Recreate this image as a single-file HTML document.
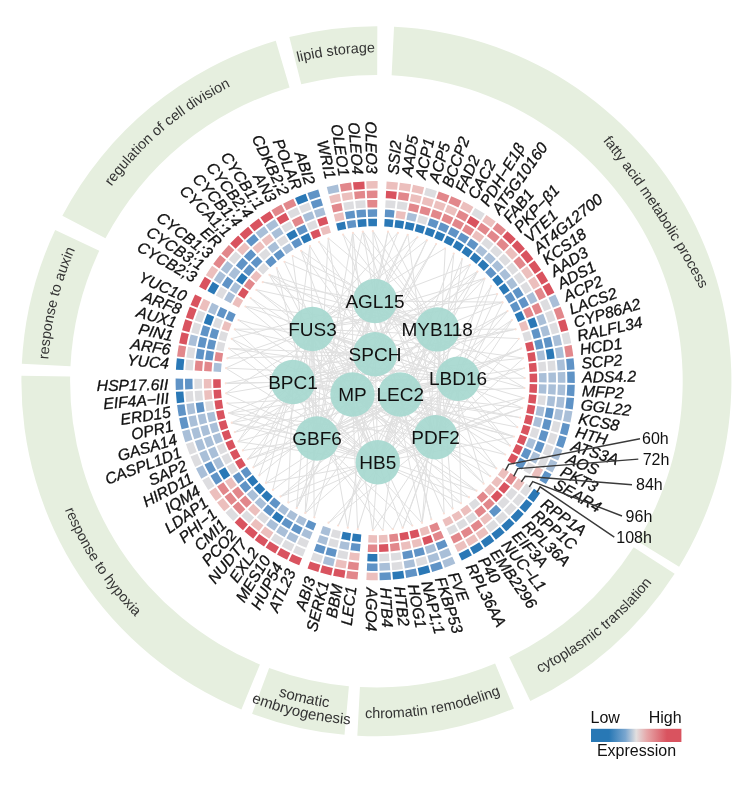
<!DOCTYPE html>
<html><head><meta charset="utf-8"><title>Figure</title><style>html,body{margin:0;padding:0;background:#fff}svg{display:block}text{-webkit-font-smoothing:antialiased}svg{will-change:transform;transform:translateZ(0)}</style></head><body>
<svg width="750" height="804" viewBox="0 0 750 804" font-family="'Liberation Sans', Arial, sans-serif">
<rect width="750" height="804" fill="#fff"/>
<path d="M394.05,26.64A355.00,355.00 0 0 1 679.09,566.69L637.56,541.24A306.30,306.30 0 0 0 391.63,75.28Z" fill="#e6efdf"/>
<path d="M674.63,573.77A355.00,355.00 0 0 1 530.35,701.08L509.23,657.20A306.30,306.30 0 0 0 633.72,547.35Z" fill="#e6efdf"/>
<path d="M513.97,708.46A355.00,355.00 0 0 1 357.33,735.69L359.94,687.06A306.30,306.30 0 0 0 495.10,663.57Z" fill="#e6efdf"/>
<path d="M344.53,734.77A355.00,355.00 0 0 1 252.08,713.72L269.13,668.10A306.30,306.30 0 0 0 348.91,686.26Z" fill="#e6efdf"/>
<path d="M241.41,709.53A355.00,355.00 0 0 1 21.44,375.81L70.14,376.55A306.30,306.30 0 0 0 259.93,664.49Z" fill="#e6efdf"/>
<path d="M21.83,363.73A355.00,355.00 0 0 1 55.19,230.05L99.25,250.78A306.30,306.30 0 0 0 70.47,366.13Z" fill="#e6efdf"/>
<path d="M62.37,215.63A355.00,355.00 0 0 1 275.75,40.77L289.56,87.47A306.30,306.30 0 0 0 105.45,238.35Z" fill="#e6efdf"/>
<path d="M289.32,37.05A355.00,355.00 0 0 1 377.33,26.20L377.20,74.90A306.30,306.30 0 0 0 301.26,84.26Z" fill="#e6efdf"/>
<defs><path id="p0_0" d="M99.34,-200.77A1012.43,1012.43 0 0 1 814.64,886.61" fill="none"/><path id="p1_0" d="M391.53,705.40A323.31,323.31 0 0 0 715.42,444.91" fill="none"/><path id="p2_0" d="M207.17,672.67A337.04,337.04 0 0 0 634.06,598.47" fill="none"/><path id="p3_0" d="M113.63,580.47A329.79,329.79 0 0 0 527.02,674.58" fill="none"/><path id="p3_1" d="M102.07,589.24A344.29,344.29 0 0 0 533.64,687.48" fill="none"/><path id="p4_0" d="M41.60,342.40A337.04,337.04 0 0 0 280.06,704.17" fill="none"/><path id="p5_0" d="M81.67,526.86A328.76,328.76 0 0 1 181.77,116.24" fill="none"/><path id="p6_0" d="M52.63,324.11A328.76,328.76 0 0 1 376.40,52.44" fill="none"/><path id="p7_0" d="M135.86,157.09A328.76,328.76 0 0 1 555.34,105.40" fill="none"/></defs>
<text font-size="14.4" fill="#333"><textPath href="#p0_0" startOffset="50%" text-anchor="middle">fatty acid metabolic process</textPath></text>
<text font-size="14.4" fill="#333"><textPath href="#p1_0" startOffset="50%" text-anchor="middle">cytoplasmic translation</textPath></text>
<text font-size="14.4" fill="#333"><textPath href="#p2_0" startOffset="50%" text-anchor="middle">chromatin remodeling</textPath></text>
<text font-size="15.0" fill="#333"><textPath href="#p3_0" startOffset="50%" text-anchor="middle">somatic</textPath></text>
<text font-size="15.0" fill="#333"><textPath href="#p3_1" startOffset="50%" text-anchor="middle">embryogenesis</textPath></text>
<text font-size="14.4" fill="#333"><textPath href="#p4_0" startOffset="50%" text-anchor="middle">response to hypoxia</textPath></text>
<text font-size="14.4" fill="#333"><textPath href="#p5_0" startOffset="50%" text-anchor="middle">response to auxin</textPath></text>
<text font-size="14.4" fill="#333"><textPath href="#p6_0" startOffset="50%" text-anchor="middle">regulation of cell division</textPath></text>
<text font-size="14.4" fill="#333"><textPath href="#p7_0" startOffset="50%" text-anchor="middle">lipid storage</textPath></text>
<path d="M437.2,329.4L388.0,231.3M352.5,394.5L388.0,231.3M375.0,301.0L388.0,231.3M317.0,438.5L398.0,232.4M312.5,329.0L398.0,232.4M435.6,437.2L407.8,234.3M375.0,301.0L407.8,234.3M317.0,438.5L407.8,234.3M375.0,301.0L417.5,236.8M312.5,329.0L417.5,236.8M352.5,394.5L427.0,239.9M312.5,329.0L427.0,239.9M375.0,354.3L427.0,239.9M317.0,438.5L436.3,243.7M352.5,394.5L436.3,243.7M435.6,437.2L445.3,248.1M312.5,329.0L445.3,248.1M377.8,462.2L453.9,253.0M435.6,437.2L453.9,253.0M435.6,437.2L462.3,258.6M377.8,462.2L462.3,258.6M375.0,301.0L470.2,264.6M375.0,354.3L470.2,264.6M377.8,462.2L470.2,264.6M437.2,329.4L477.8,271.2M293.0,382.0L477.8,271.2M352.5,394.5L477.8,271.2M377.8,462.2L477.8,271.2M312.5,329.0L484.8,278.3M435.6,437.2L484.8,278.3M293.0,382.0L484.8,278.3M437.2,329.4L484.8,278.3M435.6,437.2L491.4,285.8M377.8,462.2L491.4,285.8M458.0,378.7L497.5,293.8M312.5,329.0L497.5,293.8M312.5,329.0L503.0,302.1M435.6,437.2L503.0,302.1M375.0,301.0L503.0,302.1M375.0,354.3L503.0,302.1M377.8,462.2L507.9,310.8M317.0,438.5L507.9,310.8M352.5,394.5L507.9,310.8M400.2,394.5L512.3,319.8M435.6,437.2L512.3,319.8M377.8,462.2L512.3,319.8M293.0,382.0L516.1,329.1M375.0,354.3L516.1,329.1M437.2,329.4L516.1,329.1M312.5,329.0L519.2,338.6M435.6,437.2L519.2,338.6M317.0,438.5L521.7,348.3M400.2,394.5L521.7,348.3M458.0,378.7L521.7,348.3M293.0,382.0L523.5,358.1M435.6,437.2L523.5,358.1M312.5,329.0L523.5,358.1M317.0,438.5L524.7,368.1M352.5,394.5L524.7,368.1M458.0,378.7L525.2,378.1M437.2,329.4L525.2,378.1M352.5,394.5L525.0,388.1M375.0,301.0L525.0,388.1M312.5,329.0L525.0,388.1M435.6,437.2L524.2,398.0M458.0,378.7L524.2,398.0M377.8,462.2L524.2,398.0M317.0,438.5L524.2,398.0M400.2,394.5L522.7,407.9M435.6,437.2L522.7,407.9M377.8,462.2L522.7,407.9M312.5,329.0L522.7,407.9M293.0,382.0L520.6,417.7M400.2,394.5L520.6,417.7M375.0,301.0L517.8,427.3M293.0,382.0L517.8,427.3M377.8,462.2L514.3,436.7M400.2,394.5L514.3,436.7M293.0,382.0L514.3,436.7M352.5,394.5L514.3,436.7M375.0,301.0L510.3,445.9M400.2,394.5L510.3,445.9M458.0,378.7L510.3,445.9M435.6,437.2L505.7,454.7M312.5,329.0L505.7,454.7M375.0,301.0L496.7,468.6M375.0,354.3L496.7,468.6M293.0,382.0L496.7,468.6M375.0,354.3L490.6,476.5M352.5,394.5L490.6,476.5M400.2,394.5L483.9,484.0M312.5,329.0L483.9,484.0M437.2,329.4L483.9,484.0M352.5,394.5L476.8,491.0M317.0,438.5L476.8,491.0M293.0,382.0L476.8,491.0M352.5,394.5L469.2,497.6M317.0,438.5L469.2,497.6M352.5,394.5L461.2,503.6M458.0,378.7L461.2,503.6M377.8,462.2L461.2,503.6M437.2,329.4L452.8,509.0M312.5,329.0L452.8,509.0M437.2,329.4L444.1,513.9M375.0,354.3L444.1,513.9M375.0,301.0L431.5,519.7M400.2,394.5L431.5,519.7M437.2,329.4L422.1,523.2M293.0,382.0L422.1,523.2M435.6,437.2L422.1,523.2M375.0,301.0L422.1,523.2M352.5,394.5L412.5,526.0M317.0,438.5L412.5,526.0M435.6,437.2L402.7,528.2M377.8,462.2L402.7,528.2M458.0,378.7L402.7,528.2M317.0,438.5L392.8,529.7M435.6,437.2L392.8,529.7M400.2,394.5L382.8,530.5M317.0,438.5L382.8,530.5M352.5,394.5L372.8,530.7M377.8,462.2L372.8,530.7M435.6,437.2L372.8,530.7M400.2,394.5L357.6,529.7M352.5,394.5L357.6,529.7M375.0,354.3L347.7,528.2M312.5,329.0L347.7,528.2M400.2,394.5L338.0,526.0M437.2,329.4L338.0,526.0M458.0,378.7L328.4,523.2M435.6,437.2L328.4,523.2M312.5,329.0L314.2,517.7M375.0,301.0L314.2,517.7M437.2,329.4L305.2,513.3M317.0,438.5L305.2,513.3M312.5,329.0L305.2,513.3M458.0,378.7L305.2,513.3M375.0,301.0L296.5,508.4M312.5,329.0L296.5,508.4M375.0,354.3L296.5,508.4M352.5,394.5L296.5,508.4M377.8,462.2L288.1,502.9M293.0,382.0L288.1,502.9M435.6,437.2L280.2,496.8M458.0,378.7L280.2,496.8M400.2,394.5L280.2,496.8M312.5,329.0L272.7,490.2M400.2,394.5L272.7,490.2M400.2,394.5L265.6,483.1M377.8,462.2L265.6,483.1M293.0,382.0L265.6,483.1M437.2,329.4L259.0,475.6M312.5,329.0L259.0,475.6M293.0,382.0L253.0,467.6M400.2,394.5L253.0,467.6M437.2,329.4L253.0,467.6M375.0,301.0L247.4,459.3M375.0,354.3L247.4,459.3M317.0,438.5L247.4,459.3M458.0,378.7L247.4,459.3M317.0,438.5L242.5,450.6M375.0,301.0L242.5,450.6M293.0,382.0L238.1,441.6M312.5,329.0L238.1,441.6M377.8,462.2L238.1,441.6M458.0,378.7L238.1,441.6M458.0,378.7L234.4,432.3M375.0,354.3L234.4,432.3M317.0,438.5L231.2,422.8M377.8,462.2L231.2,422.8M458.0,378.7L231.2,422.8M375.0,354.3L231.2,422.8M375.0,354.3L228.7,413.1M377.8,462.2L228.7,413.1M352.5,394.5L228.7,413.1M435.6,437.2L228.7,413.1M317.0,438.5L226.9,403.3M400.2,394.5L226.9,403.3M375.0,301.0L225.7,393.3M377.8,462.2L225.7,393.3M293.0,382.0L225.7,393.3M293.0,382.0L225.2,383.4M375.0,354.3L225.2,383.4M458.0,378.7L225.2,383.4M458.0,378.7L225.7,368.1M377.8,462.2L225.7,368.1M312.5,329.0L225.7,368.1M312.5,329.0L226.9,358.2M375.0,354.3L226.9,358.2M375.0,354.3L228.7,348.4M458.0,378.7L228.7,348.4M377.8,462.2L228.7,348.4M435.6,437.2L231.2,338.7M377.8,462.2L231.2,338.7M375.0,301.0L231.2,338.7M377.8,462.2L234.3,329.2M458.0,378.7L234.3,329.2M312.5,329.0L234.3,329.2M352.5,394.5L238.1,319.9M375.0,354.3L238.1,319.9M437.2,329.4L245.0,306.3M352.5,394.5L245.0,306.3M458.0,378.7L245.0,306.3M352.5,394.5L250.2,297.8M400.2,394.5L250.2,297.8M312.5,329.0L256.0,289.6M437.2,329.4L256.0,289.6M435.6,437.2L256.0,289.6M375.0,301.0L262.3,281.9M437.2,329.4L262.3,281.9M400.2,394.5L269.2,274.6M437.2,329.4L269.2,274.6M377.8,462.2L269.2,274.6M458.0,378.7L269.2,274.6M317.0,438.5L276.5,267.8M377.8,462.2L276.5,267.8M375.0,301.0L284.2,261.4M377.8,462.2L284.2,261.4M317.0,438.5L292.4,255.6M437.2,329.4L292.4,255.6M375.0,354.3L300.9,250.4M377.8,462.2L300.9,250.4M375.0,301.0L300.9,250.4M375.0,354.3L309.8,245.7M293.0,382.0L309.8,245.7M317.0,438.5L309.8,245.7M435.6,437.2L318.9,241.7M458.0,378.7L318.9,241.7M317.0,438.5L328.3,238.2M352.5,394.5L328.3,238.2M437.2,329.4L328.3,238.2M458.0,378.7L343.0,234.2M400.2,394.5L343.0,234.2M317.0,438.5L352.8,232.4M352.5,394.5L352.8,232.4M377.8,462.2L352.8,232.4M437.2,329.4L352.8,232.4M437.2,329.4L362.8,231.2M317.0,438.5L362.8,231.2M435.6,437.2L362.8,231.2M375.0,301.0L362.8,231.2M437.2,329.4L372.8,230.7M435.6,437.2L372.8,230.7M375.0,301.0L372.8,230.7M375.0,301.0L437.2,329.4M375.0,301.0L375.0,354.3M375.0,301.0L458.0,378.7M375.0,301.0L352.5,394.5M375.0,301.0L435.6,437.2M312.5,329.0L375.0,354.3M312.5,329.0L293.0,382.0M312.5,329.0L458.0,378.7M312.5,329.0L352.5,394.5M312.5,329.0L400.2,394.5M312.5,329.0L317.0,438.5M312.5,329.0L377.8,462.2M437.2,329.4L375.0,354.3M437.2,329.4L352.5,394.5M437.2,329.4L400.2,394.5M375.0,354.3L293.0,382.0M375.0,354.3L377.8,462.2M293.0,382.0L458.0,378.7M293.0,382.0L352.5,394.5M293.0,382.0L400.2,394.5M293.0,382.0L317.0,438.5M293.0,382.0L377.8,462.2M458.0,378.7L352.5,394.5M458.0,378.7L400.2,394.5M458.0,378.7L317.0,438.5M352.5,394.5L317.0,438.5M352.5,394.5L435.6,437.2M352.5,394.5L377.8,462.2M400.2,394.5L317.0,438.5M400.2,394.5L377.8,462.2M317.0,438.5L377.8,462.2" stroke="#e0e0e0" stroke-width="1" fill="none"/>
<circle cx="388.0" cy="231.7" r="1.1" fill="#fbe0d6"/>
<circle cx="397.9" cy="232.9" r="1.1" fill="#fbe0d6"/>
<circle cx="407.7" cy="234.8" r="1.1" fill="#fbe0d6"/>
<circle cx="417.4" cy="237.3" r="1.1" fill="#fbe0d6"/>
<circle cx="426.8" cy="240.4" r="1.1" fill="#fbe0d6"/>
<circle cx="436.1" cy="244.1" r="1.1" fill="#fbe0d6"/>
<circle cx="445.0" cy="248.5" r="1.1" fill="#fbe0d6"/>
<circle cx="453.7" cy="253.5" r="1.1" fill="#fbe0d6"/>
<circle cx="462.0" cy="259.0" r="1.1" fill="#fbe0d6"/>
<circle cx="469.9" cy="265.0" r="1.1" fill="#fbe0d6"/>
<circle cx="477.4" cy="271.6" r="1.1" fill="#fbe0d6"/>
<circle cx="484.5" cy="278.7" r="1.1" fill="#fbe0d6"/>
<circle cx="491.0" cy="286.2" r="1.1" fill="#fbe0d6"/>
<circle cx="497.1" cy="294.1" r="1.1" fill="#fbe0d6"/>
<circle cx="502.6" cy="302.4" r="1.1" fill="#fbe0d6"/>
<circle cx="507.5" cy="311.1" r="1.1" fill="#fbe0d6"/>
<circle cx="511.8" cy="320.0" r="1.1" fill="#fbe0d6"/>
<circle cx="515.6" cy="329.3" r="1.1" fill="#fbe0d6"/>
<circle cx="518.7" cy="338.8" r="1.1" fill="#fbe0d6"/>
<circle cx="521.2" cy="348.4" r="1.1" fill="#fbe0d6"/>
<circle cx="523.0" cy="358.2" r="1.1" fill="#fbe0d6"/>
<circle cx="524.2" cy="368.1" r="1.1" fill="#fbe0d6"/>
<circle cx="524.7" cy="378.1" r="1.1" fill="#fbe0d6"/>
<circle cx="524.5" cy="388.0" r="1.1" fill="#fbe0d6"/>
<circle cx="523.7" cy="398.0" r="1.1" fill="#fbe0d6"/>
<circle cx="522.2" cy="407.8" r="1.1" fill="#fbe0d6"/>
<circle cx="520.1" cy="417.6" r="1.1" fill="#fbe0d6"/>
<circle cx="517.3" cy="427.2" r="1.1" fill="#fbe0d6"/>
<circle cx="513.9" cy="436.5" r="1.1" fill="#fbe0d6"/>
<circle cx="509.9" cy="445.6" r="1.1" fill="#fbe0d6"/>
<circle cx="505.2" cy="454.5" r="1.1" fill="#fbe0d6"/>
<circle cx="496.3" cy="468.3" r="1.1" fill="#fbe0d6"/>
<circle cx="490.2" cy="476.2" r="1.1" fill="#fbe0d6"/>
<circle cx="483.6" cy="483.7" r="1.1" fill="#fbe0d6"/>
<circle cx="476.5" cy="490.7" r="1.1" fill="#fbe0d6"/>
<circle cx="468.9" cy="497.2" r="1.1" fill="#fbe0d6"/>
<circle cx="460.9" cy="503.2" r="1.1" fill="#fbe0d6"/>
<circle cx="452.6" cy="508.6" r="1.1" fill="#fbe0d6"/>
<circle cx="443.9" cy="513.5" r="1.1" fill="#fbe0d6"/>
<circle cx="431.3" cy="519.3" r="1.1" fill="#fbe0d6"/>
<circle cx="421.9" cy="522.7" r="1.1" fill="#fbe0d6"/>
<circle cx="412.3" cy="525.5" r="1.1" fill="#fbe0d6"/>
<circle cx="402.6" cy="527.7" r="1.1" fill="#fbe0d6"/>
<circle cx="392.8" cy="529.2" r="1.1" fill="#fbe0d6"/>
<circle cx="382.8" cy="530.0" r="1.1" fill="#fbe0d6"/>
<circle cx="372.8" cy="530.2" r="1.1" fill="#fbe0d6"/>
<circle cx="357.7" cy="529.2" r="1.1" fill="#fbe0d6"/>
<circle cx="347.8" cy="527.7" r="1.1" fill="#fbe0d6"/>
<circle cx="338.1" cy="525.5" r="1.1" fill="#fbe0d6"/>
<circle cx="328.5" cy="522.7" r="1.1" fill="#fbe0d6"/>
<circle cx="314.4" cy="517.3" r="1.1" fill="#fbe0d6"/>
<circle cx="305.4" cy="512.9" r="1.1" fill="#fbe0d6"/>
<circle cx="296.7" cy="508.0" r="1.1" fill="#fbe0d6"/>
<circle cx="288.4" cy="502.4" r="1.1" fill="#fbe0d6"/>
<circle cx="280.5" cy="496.4" r="1.1" fill="#fbe0d6"/>
<circle cx="273.0" cy="489.8" r="1.1" fill="#fbe0d6"/>
<circle cx="266.0" cy="482.8" r="1.1" fill="#fbe0d6"/>
<circle cx="259.4" cy="475.3" r="1.1" fill="#fbe0d6"/>
<circle cx="253.4" cy="467.3" r="1.1" fill="#fbe0d6"/>
<circle cx="247.9" cy="459.0" r="1.1" fill="#fbe0d6"/>
<circle cx="242.9" cy="450.4" r="1.1" fill="#fbe0d6"/>
<circle cx="238.6" cy="441.4" r="1.1" fill="#fbe0d6"/>
<circle cx="234.8" cy="432.1" r="1.1" fill="#fbe0d6"/>
<circle cx="231.7" cy="422.7" r="1.1" fill="#fbe0d6"/>
<circle cx="229.2" cy="413.0" r="1.1" fill="#fbe0d6"/>
<circle cx="227.4" cy="403.2" r="1.1" fill="#fbe0d6"/>
<circle cx="226.2" cy="393.3" r="1.1" fill="#fbe0d6"/>
<circle cx="225.7" cy="383.3" r="1.1" fill="#fbe0d6"/>
<circle cx="226.2" cy="368.2" r="1.1" fill="#fbe0d6"/>
<circle cx="227.4" cy="358.3" r="1.1" fill="#fbe0d6"/>
<circle cx="229.2" cy="348.5" r="1.1" fill="#fbe0d6"/>
<circle cx="231.7" cy="338.8" r="1.1" fill="#fbe0d6"/>
<circle cx="234.8" cy="329.3" r="1.1" fill="#fbe0d6"/>
<circle cx="238.5" cy="320.1" r="1.1" fill="#fbe0d6"/>
<circle cx="245.4" cy="306.5" r="1.1" fill="#fbe0d6"/>
<circle cx="250.6" cy="298.1" r="1.1" fill="#fbe0d6"/>
<circle cx="256.4" cy="289.9" r="1.1" fill="#fbe0d6"/>
<circle cx="262.7" cy="282.2" r="1.1" fill="#fbe0d6"/>
<circle cx="269.5" cy="274.9" r="1.1" fill="#fbe0d6"/>
<circle cx="276.8" cy="268.1" r="1.1" fill="#fbe0d6"/>
<circle cx="284.5" cy="261.8" r="1.1" fill="#fbe0d6"/>
<circle cx="292.7" cy="256.0" r="1.1" fill="#fbe0d6"/>
<circle cx="301.2" cy="250.8" r="1.1" fill="#fbe0d6"/>
<circle cx="310.0" cy="246.2" r="1.1" fill="#fbe0d6"/>
<circle cx="319.1" cy="242.1" r="1.1" fill="#fbe0d6"/>
<circle cx="328.5" cy="238.7" r="1.1" fill="#fbe0d6"/>
<circle cx="343.1" cy="234.7" r="1.1" fill="#fbe0d6"/>
<circle cx="352.9" cy="232.9" r="1.1" fill="#fbe0d6"/>
<circle cx="362.8" cy="231.7" r="1.1" fill="#fbe0d6"/>
<circle cx="372.8" cy="231.2" r="1.1" fill="#fbe0d6"/>
<path d="M386.61,181.43A199.60,199.60 0 0 1 397.95,182.40L397.09,189.85A192.10,192.10 0 0 0 386.18,188.91Z" fill="#ecbfbd"/>
<path d="M386.12,190.81A190.20,190.20 0 0 1 396.83,191.73L395.98,199.19A182.70,182.70 0 0 0 385.69,198.30Z" fill="#d9535f"/>
<path d="M385.63,200.20A180.80,180.80 0 0 1 395.71,201.07L394.86,208.52A173.30,173.30 0 0 0 385.20,207.69Z" fill="#dddde0"/>
<path d="M385.14,209.59A171.40,171.40 0 0 1 394.60,210.40L393.75,217.85A163.90,163.90 0 0 0 384.71,217.08Z" fill="#5f93c6"/>
<path d="M384.65,218.98A162.00,162.00 0 0 1 393.48,219.73L392.63,227.19A154.50,154.50 0 0 0 384.21,226.46Z" fill="#2a78b6"/>
<path d="M399.87,182.63A199.60,199.60 0 0 1 411.12,184.36L409.77,191.74A192.10,192.10 0 0 0 398.94,190.07Z" fill="#ecbfbd"/>
<path d="M398.75,191.96A190.20,190.20 0 0 1 409.38,193.60L408.03,200.97A182.70,182.70 0 0 0 397.83,199.41Z" fill="#e2878b"/>
<path d="M397.64,201.30A180.80,180.80 0 0 1 407.64,202.83L406.30,210.21A173.30,173.30 0 0 0 396.71,208.74Z" fill="#dddde0"/>
<path d="M396.52,210.63A171.40,171.40 0 0 1 405.90,212.07L404.56,219.45A163.90,163.90 0 0 0 395.59,218.07Z" fill="#ecbfbd"/>
<path d="M395.41,219.97A162.00,162.00 0 0 1 404.17,221.31L402.83,228.69A154.50,154.50 0 0 0 394.47,227.41Z" fill="#2a78b6"/>
<path d="M413.02,184.72A199.60,199.60 0 0 1 424.12,187.19L422.28,194.46A192.10,192.10 0 0 0 411.60,192.08Z" fill="#ecbfbd"/>
<path d="M411.28,193.95A190.20,190.20 0 0 1 421.77,196.29L419.94,203.56A182.70,182.70 0 0 0 409.86,201.32Z" fill="#ecbfbd"/>
<path d="M409.55,203.19A180.80,180.80 0 0 1 419.42,205.39L417.59,212.66A173.30,173.30 0 0 0 408.12,210.56Z" fill="#e2878b"/>
<path d="M407.81,212.43A171.40,171.40 0 0 1 417.08,214.49L415.24,221.77A163.90,163.90 0 0 0 406.39,219.79Z" fill="#a9bfd8"/>
<path d="M406.08,221.67A162.00,162.00 0 0 1 414.73,223.60L412.90,230.87A154.50,154.50 0 0 0 404.65,229.03Z" fill="#2a78b6"/>
<path d="M426.00,187.67A199.60,199.60 0 0 1 436.91,190.88L434.59,198.01A192.10,192.10 0 0 0 424.09,194.93Z" fill="#dddde0"/>
<path d="M423.65,196.77A190.20,190.20 0 0 1 433.96,199.81L431.65,206.94A182.70,182.70 0 0 0 421.74,204.03Z" fill="#ecbfbd"/>
<path d="M421.30,205.88A180.80,180.80 0 0 1 431.01,208.73L428.70,215.86A173.30,173.30 0 0 0 419.39,213.13Z" fill="#e2878b"/>
<path d="M418.96,214.98A171.40,171.40 0 0 1 428.06,217.66L425.75,224.79A163.90,163.90 0 0 0 417.04,222.23Z" fill="#dddde0"/>
<path d="M416.61,224.08A162.00,162.00 0 0 1 425.11,226.58L422.80,233.72A154.50,154.50 0 0 0 414.69,231.33Z" fill="#2a78b6"/>
<path d="M438.75,191.49A199.60,199.60 0 0 1 449.43,195.42L446.64,202.38A192.10,192.10 0 0 0 436.36,198.60Z" fill="#e2878b"/>
<path d="M435.80,200.41A190.20,190.20 0 0 1 445.89,204.12L443.10,211.09A182.70,182.70 0 0 0 433.41,207.52Z" fill="#ecbfbd"/>
<path d="M432.85,209.34A180.80,180.80 0 0 1 442.35,212.83L439.57,219.80A173.30,173.30 0 0 0 430.46,216.45Z" fill="#e2878b"/>
<path d="M429.91,218.26A171.40,171.40 0 0 1 438.81,221.54L436.03,228.51A163.90,163.90 0 0 0 427.51,225.37Z" fill="#5f93c6"/>
<path d="M426.96,227.19A162.00,162.00 0 0 1 435.27,230.25L432.49,237.21A154.50,154.50 0 0 0 424.56,234.30Z" fill="#2a78b6"/>
<path d="M451.22,196.14A199.60,199.60 0 0 1 461.61,200.78L458.37,207.54A192.10,192.10 0 0 0 448.37,203.08Z" fill="#e2878b"/>
<path d="M447.69,204.85A190.20,190.20 0 0 1 457.50,209.23L454.26,215.99A182.70,182.70 0 0 0 444.83,211.79Z" fill="#ecbfbd"/>
<path d="M444.15,213.56A180.80,180.80 0 0 1 453.39,217.68L450.15,224.44A173.30,173.30 0 0 0 441.29,220.50Z" fill="#e2878b"/>
<path d="M440.61,222.27A171.40,171.40 0 0 1 449.28,226.14L446.04,232.90A163.90,163.90 0 0 0 437.75,229.20Z" fill="#5f93c6"/>
<path d="M437.07,230.98A162.00,162.00 0 0 1 445.17,234.59L441.93,241.35A154.50,154.50 0 0 0 434.21,237.91Z" fill="#2a78b6"/>
<path d="M463.36,201.62A199.60,199.60 0 0 1 473.42,206.94L469.72,213.47A192.10,192.10 0 0 0 460.04,208.35Z" fill="#ecbfbd"/>
<path d="M459.25,210.08A190.20,190.20 0 0 1 468.75,215.10L465.06,221.63A182.70,182.70 0 0 0 455.93,216.80Z" fill="#e2878b"/>
<path d="M455.14,218.53A180.80,180.80 0 0 1 464.08,223.26L460.40,229.79A173.30,173.30 0 0 0 451.82,225.26Z" fill="#e2878b"/>
<path d="M451.03,226.98A171.40,171.40 0 0 1 459.42,231.42L455.73,237.95A163.90,163.90 0 0 0 447.71,233.71Z" fill="#5f93c6"/>
<path d="M446.92,235.44A162.00,162.00 0 0 1 454.75,239.58L451.07,246.11A154.50,154.50 0 0 0 443.60,242.16Z" fill="#2a78b6"/>
<path d="M475.10,207.90A199.60,199.60 0 0 1 484.78,213.87L480.66,220.14A192.10,192.10 0 0 0 471.34,214.39Z" fill="#dddde0"/>
<path d="M470.43,216.06A190.20,190.20 0 0 1 479.58,221.70L475.46,227.97A182.70,182.70 0 0 0 466.68,222.55Z" fill="#d9535f"/>
<path d="M465.77,224.22A180.80,180.80 0 0 1 474.38,229.53L470.27,235.80A173.30,173.30 0 0 0 462.01,230.71Z" fill="#e2878b"/>
<path d="M461.10,232.38A171.40,171.40 0 0 1 469.18,237.36L465.07,243.63A163.90,163.90 0 0 0 457.34,238.87Z" fill="#5f93c6"/>
<path d="M456.44,240.54A162.00,162.00 0 0 1 463.98,245.19L459.87,251.47A154.50,154.50 0 0 0 452.68,247.03Z" fill="#2a78b6"/>
<path d="M486.39,214.94A199.60,199.60 0 0 1 495.66,221.54L491.13,227.52A192.10,192.10 0 0 0 482.21,221.17Z" fill="#ecbfbd"/>
<path d="M481.19,222.77A190.20,190.20 0 0 1 489.95,229.01L485.42,234.99A182.70,182.70 0 0 0 477.02,229.00Z" fill="#e2878b"/>
<path d="M476.00,230.60A180.80,180.80 0 0 1 484.24,236.48L479.71,242.46A173.30,173.30 0 0 0 471.82,236.83Z" fill="#ecbfbd"/>
<path d="M470.80,238.44A171.40,171.40 0 0 1 478.53,243.95L474.00,249.93A163.90,163.90 0 0 0 466.62,244.66Z" fill="#5f93c6"/>
<path d="M465.60,246.27A162.00,162.00 0 0 1 472.82,251.41L468.30,257.40A154.50,154.50 0 0 0 461.42,252.49Z" fill="#2a78b6"/>
<path d="M497.19,222.72A199.60,199.60 0 0 1 506.00,229.93L501.08,235.59A192.10,192.10 0 0 0 492.61,228.66Z" fill="#e2878b"/>
<path d="M491.49,230.19A190.20,190.20 0 0 1 499.80,237.00L494.89,242.66A182.70,182.70 0 0 0 486.90,236.12Z" fill="#e2878b"/>
<path d="M485.78,237.66A180.80,180.80 0 0 1 493.61,244.07L488.70,249.74A173.30,173.30 0 0 0 481.19,243.59Z" fill="#dddde0"/>
<path d="M480.07,245.13A171.40,171.40 0 0 1 487.41,251.14L482.50,256.81A163.90,163.90 0 0 0 475.48,251.06Z" fill="#a9bfd8"/>
<path d="M474.36,252.59A162.00,162.00 0 0 1 481.22,258.21L476.31,263.88A154.50,154.50 0 0 0 469.77,258.53Z" fill="#2a78b6"/>
<path d="M507.45,231.20A199.60,199.60 0 0 1 515.76,238.98L510.47,244.31A192.10,192.10 0 0 0 502.48,236.82Z" fill="#d9535f"/>
<path d="M501.26,238.27A190.20,190.20 0 0 1 509.10,245.62L503.82,250.95A182.70,182.70 0 0 0 496.29,243.89Z" fill="#e2878b"/>
<path d="M495.07,245.35A180.80,180.80 0 0 1 502.45,252.26L497.17,257.59A173.30,173.30 0 0 0 490.09,250.96Z" fill="#dddde0"/>
<path d="M488.87,252.42A171.40,171.40 0 0 1 495.80,258.91L490.52,264.23A163.90,163.90 0 0 0 483.90,258.03Z" fill="#a9bfd8"/>
<path d="M482.68,259.49A162.00,162.00 0 0 1 489.15,265.55L483.87,270.88A154.50,154.50 0 0 0 477.70,265.10Z" fill="#2a78b6"/>
<path d="M517.12,240.35A199.60,199.60 0 0 1 524.89,248.67L519.27,253.63A192.10,192.10 0 0 0 511.79,245.63Z" fill="#d9535f"/>
<path d="M510.47,246.99A190.20,190.20 0 0 1 517.81,254.85L512.19,259.81A182.70,182.70 0 0 0 505.14,252.27Z" fill="#ecbfbd"/>
<path d="M503.82,253.64A180.80,180.80 0 0 1 510.73,261.03L505.11,266.00A173.30,173.30 0 0 0 498.49,258.91Z" fill="#dddde0"/>
<path d="M497.17,260.28A171.40,171.40 0 0 1 503.65,267.22L498.03,272.18A163.90,163.90 0 0 0 491.83,265.55Z" fill="#a9bfd8"/>
<path d="M490.52,266.92A162.00,162.00 0 0 1 496.57,273.40L490.95,278.37A154.50,154.50 0 0 0 485.18,272.19Z" fill="#5f93c6"/>
<path d="M526.16,250.12A199.60,199.60 0 0 1 533.36,258.94L527.42,263.51A192.10,192.10 0 0 0 520.49,255.03Z" fill="#d9535f"/>
<path d="M519.08,256.31A190.20,190.20 0 0 1 525.88,264.63L519.94,269.21A182.70,182.70 0 0 0 513.41,261.21Z" fill="#e2878b"/>
<path d="M512.01,262.49A180.80,180.80 0 0 1 518.40,270.33L512.46,274.91A173.30,173.30 0 0 0 506.33,267.40Z" fill="#dddde0"/>
<path d="M504.93,268.68A171.40,171.40 0 0 1 510.93,276.03L504.99,280.61A163.90,163.90 0 0 0 499.25,273.58Z" fill="#a9bfd8"/>
<path d="M497.85,274.86A162.00,162.00 0 0 1 503.45,281.73L497.51,286.31A154.50,154.50 0 0 0 492.17,279.76Z" fill="#2a78b6"/>
<path d="M534.53,260.48A199.60,199.60 0 0 1 541.12,269.75L534.89,273.92A192.10,192.10 0 0 0 528.55,264.99Z" fill="#d9535f"/>
<path d="M527.06,266.18A190.20,190.20 0 0 1 533.28,274.94L527.05,279.11A182.70,182.70 0 0 0 521.07,270.69Z" fill="#ecbfbd"/>
<path d="M519.58,271.88A180.80,180.80 0 0 1 525.44,280.12L519.21,284.30A173.30,173.30 0 0 0 513.59,276.39Z" fill="#dddde0"/>
<path d="M512.11,277.57A171.40,171.40 0 0 1 517.60,285.31L511.37,289.48A163.90,163.90 0 0 0 506.11,282.09Z" fill="#a9bfd8"/>
<path d="M504.63,283.27A162.00,162.00 0 0 1 509.76,290.50L503.53,294.67A154.50,154.50 0 0 0 498.64,287.78Z" fill="#2a78b6"/>
<path d="M542.19,271.37A199.60,199.60 0 0 1 548.15,281.06L541.65,284.80A192.10,192.10 0 0 0 535.92,275.47Z" fill="#d9535f"/>
<path d="M534.35,276.55A190.20,190.20 0 0 1 539.98,285.71L533.48,289.46A182.70,182.70 0 0 0 528.08,280.66Z" fill="#ecbfbd"/>
<path d="M526.51,281.74A180.80,180.80 0 0 1 531.81,290.36L525.32,294.11A173.30,173.30 0 0 0 520.24,285.85Z" fill="#dddde0"/>
<path d="M518.67,286.93A171.40,171.40 0 0 1 523.64,295.01L517.15,298.76A163.90,163.90 0 0 0 512.40,291.03Z" fill="#5f93c6"/>
<path d="M510.84,292.12A162.00,162.00 0 0 1 515.48,299.67L508.98,303.42A154.50,154.50 0 0 0 504.56,296.22Z" fill="#5f93c6"/>
<path d="M549.11,282.74A199.60,199.60 0 0 1 554.41,292.81L547.67,296.11A192.10,192.10 0 0 0 542.57,286.42Z" fill="#d9535f"/>
<path d="M540.94,287.39A190.20,190.20 0 0 1 545.95,296.90L539.21,300.21A182.70,182.70 0 0 0 534.41,291.07Z" fill="#e2878b"/>
<path d="M532.77,292.05A180.80,180.80 0 0 1 537.49,301.00L530.75,304.31A173.30,173.30 0 0 0 526.24,295.73Z" fill="#a9bfd8"/>
<path d="M524.61,296.70A171.40,171.40 0 0 1 529.03,305.10L522.30,308.41A163.90,163.90 0 0 0 518.07,300.38Z" fill="#5f93c6"/>
<path d="M516.44,301.36A162.00,162.00 0 0 1 520.57,309.20L513.84,312.51A154.50,154.50 0 0 0 509.90,305.03Z" fill="#5f93c6"/>
<path d="M555.25,294.55A199.60,199.60 0 0 1 559.87,304.95L552.93,307.79A192.10,192.10 0 0 0 548.49,297.79Z" fill="#a9bfd8"/>
<path d="M546.79,298.65A190.20,190.20 0 0 1 551.15,308.47L544.21,311.32A182.70,182.70 0 0 0 540.03,301.88Z" fill="#dddde0"/>
<path d="M538.33,302.75A180.80,180.80 0 0 1 542.44,312.00L535.50,314.85A173.30,173.30 0 0 0 531.57,305.98Z" fill="#e2878b"/>
<path d="M529.87,306.85A171.40,171.40 0 0 1 533.72,315.52L526.79,318.37A163.90,163.90 0 0 0 523.10,310.08Z" fill="#e2878b"/>
<path d="M521.41,310.95A162.00,162.00 0 0 1 525.01,319.05L518.07,321.90A154.50,154.50 0 0 0 514.64,314.18Z" fill="#2a78b6"/>
<path d="M560.59,306.74A199.60,199.60 0 0 1 564.51,317.43L557.39,319.80A192.10,192.10 0 0 0 553.63,309.52Z" fill="#e2878b"/>
<path d="M551.88,310.27A190.20,190.20 0 0 1 555.58,320.36L548.46,322.74A182.70,182.70 0 0 0 544.91,313.05Z" fill="#dddde0"/>
<path d="M543.17,313.80A180.80,180.80 0 0 1 546.65,323.30L539.53,325.68A173.30,173.30 0 0 0 536.20,316.57Z" fill="#a9bfd8"/>
<path d="M534.45,317.32A171.40,171.40 0 0 1 537.72,326.23L530.60,328.62A163.90,163.90 0 0 0 527.48,320.09Z" fill="#2a78b6"/>
<path d="M525.74,320.85A162.00,162.00 0 0 1 528.79,329.17L521.67,331.55A154.50,154.50 0 0 0 518.77,323.62Z" fill="#ecbfbd"/>
<path d="M565.11,319.27A199.60,199.60 0 0 1 568.30,330.18L561.05,332.08A192.10,192.10 0 0 0 557.97,321.57Z" fill="#d9535f"/>
<path d="M556.18,322.20A190.20,190.20 0 0 1 559.20,332.52L551.94,334.42A182.70,182.70 0 0 0 549.04,324.51Z" fill="#dddde0"/>
<path d="M547.25,325.14A180.80,180.80 0 0 1 550.09,334.85L542.84,336.75A173.30,173.30 0 0 0 540.11,327.44Z" fill="#a9bfd8"/>
<path d="M538.32,328.08A171.40,171.40 0 0 1 540.98,337.19L533.73,339.09A163.90,163.90 0 0 0 531.18,330.38Z" fill="#5f93c6"/>
<path d="M529.39,331.02A162.00,162.00 0 0 1 531.88,339.52L524.63,341.43A154.50,154.50 0 0 0 522.25,333.32Z" fill="#dddde0"/>
<path d="M568.78,332.06A199.60,199.60 0 0 1 571.24,343.17L563.87,344.58A192.10,192.10 0 0 0 561.51,333.89Z" fill="#dddde0"/>
<path d="M559.68,334.40A190.20,190.20 0 0 1 562.00,344.89L554.63,346.30A182.70,182.70 0 0 0 552.40,336.22Z" fill="#a9bfd8"/>
<path d="M550.57,336.73A180.80,180.80 0 0 1 552.76,346.61L545.39,348.03A173.30,173.30 0 0 0 543.30,338.56Z" fill="#5f93c6"/>
<path d="M541.47,339.07A171.40,171.40 0 0 1 543.52,348.33L536.15,349.75A163.90,163.90 0 0 0 534.19,340.89Z" fill="#5f93c6"/>
<path d="M532.36,341.40A162.00,162.00 0 0 1 534.28,350.06L526.91,351.47A154.50,154.50 0 0 0 525.09,343.22Z" fill="#d9535f"/>
<path d="M571.59,345.07A199.60,199.60 0 0 1 573.31,356.32L565.86,357.24A192.10,192.10 0 0 0 564.22,346.41Z" fill="#e2878b"/>
<path d="M562.35,346.80A190.20,190.20 0 0 1 563.97,357.42L556.53,358.34A182.70,182.70 0 0 0 554.97,348.13Z" fill="#a9bfd8"/>
<path d="M553.11,348.52A180.80,180.80 0 0 1 554.63,358.52L547.19,359.44A173.30,173.30 0 0 0 545.73,349.85Z" fill="#2a78b6"/>
<path d="M543.87,350.24A171.40,171.40 0 0 1 545.30,359.63L537.86,360.55A163.90,163.90 0 0 0 536.49,351.58Z" fill="#a9bfd8"/>
<path d="M534.63,351.97A162.00,162.00 0 0 1 535.96,360.73L528.52,361.65A154.50,154.50 0 0 0 527.25,353.30Z" fill="#d9535f"/>
<path d="M573.53,358.24A199.60,199.60 0 0 1 574.49,369.58L567.00,370.00A192.10,192.10 0 0 0 566.08,359.09Z" fill="#5f93c6"/>
<path d="M564.20,359.35A190.20,190.20 0 0 1 565.10,370.06L557.61,370.48A182.70,182.70 0 0 0 556.74,360.19Z" fill="#a9bfd8"/>
<path d="M554.86,360.45A180.80,180.80 0 0 1 555.71,370.53L548.23,370.96A173.30,173.30 0 0 0 547.41,361.29Z" fill="#dddde0"/>
<path d="M545.53,361.55A171.40,171.40 0 0 1 546.33,371.01L538.84,371.43A163.90,163.90 0 0 0 538.07,362.39Z" fill="#dddde0"/>
<path d="M536.19,362.66A162.00,162.00 0 0 1 536.94,371.49L529.45,371.91A154.50,154.50 0 0 0 528.74,363.49Z" fill="#d9535f"/>
<path d="M574.59,371.51A199.60,199.60 0 0 1 574.79,382.89L567.29,382.81A192.10,192.10 0 0 0 567.10,371.86Z" fill="#5f93c6"/>
<path d="M565.20,371.99A190.20,190.20 0 0 1 565.39,382.74L557.89,382.66A182.70,182.70 0 0 0 557.71,372.34Z" fill="#a9bfd8"/>
<path d="M555.81,372.47A180.80,180.80 0 0 1 555.99,382.59L548.49,382.51A173.30,173.30 0 0 0 548.32,372.81Z" fill="#a9bfd8"/>
<path d="M546.42,372.95A171.40,171.40 0 0 1 546.59,382.44L539.09,382.36A163.90,163.90 0 0 0 538.93,373.29Z" fill="#a9bfd8"/>
<path d="M537.04,373.43A162.00,162.00 0 0 1 537.19,382.29L529.69,382.22A154.50,154.50 0 0 0 529.54,373.77Z" fill="#d9535f"/>
<path d="M574.76,384.82A199.60,199.60 0 0 1 574.20,396.19L566.72,395.61A192.10,192.10 0 0 0 567.26,384.67Z" fill="#5f93c6"/>
<path d="M565.36,384.68A190.20,190.20 0 0 1 564.83,395.41L557.35,394.83A182.70,182.70 0 0 0 557.86,384.52Z" fill="#a9bfd8"/>
<path d="M555.96,384.53A180.80,180.80 0 0 1 555.46,394.64L547.98,394.06A173.30,173.30 0 0 0 548.46,384.37Z" fill="#a9bfd8"/>
<path d="M546.56,384.38A171.40,171.40 0 0 1 546.09,393.86L538.62,393.28A163.90,163.90 0 0 0 539.06,384.22Z" fill="#a9bfd8"/>
<path d="M537.16,384.23A162.00,162.00 0 0 1 536.73,393.08L529.25,392.51A154.50,154.50 0 0 0 529.66,384.07Z" fill="#d9535f"/>
<path d="M574.04,398.12A199.60,199.60 0 0 1 572.72,409.42L565.30,408.34A192.10,192.10 0 0 0 566.57,397.46Z" fill="#5f93c6"/>
<path d="M564.67,397.34A190.20,190.20 0 0 1 563.43,408.02L556.01,406.94A182.70,182.70 0 0 0 557.20,396.69Z" fill="#a9bfd8"/>
<path d="M555.30,396.57A180.80,180.80 0 0 1 554.13,406.62L546.71,405.55A173.30,173.30 0 0 0 547.83,395.91Z" fill="#a9bfd8"/>
<path d="M545.93,395.80A171.40,171.40 0 0 1 544.84,405.22L537.41,404.15A163.90,163.90 0 0 0 538.46,395.13Z" fill="#dddde0"/>
<path d="M536.57,395.02A162.00,162.00 0 0 1 535.54,403.82L528.12,402.75A154.50,154.50 0 0 0 529.10,394.36Z" fill="#d9535f"/>
<path d="M572.44,411.33A199.60,199.60 0 0 1 570.37,422.52L563.04,420.95A192.10,192.10 0 0 0 565.02,410.18Z" fill="#a9bfd8"/>
<path d="M563.14,409.94A190.20,190.20 0 0 1 561.19,420.50L553.85,418.94A182.70,182.70 0 0 0 555.73,408.78Z" fill="#a9bfd8"/>
<path d="M553.84,408.54A180.80,180.80 0 0 1 552.01,418.49L544.67,416.92A173.30,173.30 0 0 0 546.43,407.38Z" fill="#5f93c6"/>
<path d="M544.55,407.14A171.40,171.40 0 0 1 542.83,416.47L535.49,414.91A163.90,163.90 0 0 0 537.14,405.99Z" fill="#a9bfd8"/>
<path d="M535.25,405.75A162.00,162.00 0 0 1 533.64,414.46L526.31,412.90A154.50,154.50 0 0 0 527.84,404.59Z" fill="#d9535f"/>
<path d="M569.95,424.41A199.60,199.60 0 0 1 567.15,435.44L559.94,433.38A192.10,192.10 0 0 0 562.64,422.77Z" fill="#5f93c6"/>
<path d="M560.77,422.40A190.20,190.20 0 0 1 558.12,432.81L550.91,430.76A182.70,182.70 0 0 0 553.46,420.75Z" fill="#dddde0"/>
<path d="M551.59,420.38A180.80,180.80 0 0 1 549.09,430.19L541.88,428.14A173.30,173.30 0 0 0 544.27,418.74Z" fill="#5f93c6"/>
<path d="M542.41,418.37A171.40,171.40 0 0 1 540.07,427.57L532.85,425.52A163.90,163.90 0 0 0 535.09,416.72Z" fill="#a9bfd8"/>
<path d="M533.23,416.36A162.00,162.00 0 0 1 531.04,424.95L523.83,422.90A154.50,154.50 0 0 0 525.91,414.71Z" fill="#d9535f"/>
<path d="M566.61,437.30A199.60,199.60 0 0 1 563.07,448.11L556.01,445.58A192.10,192.10 0 0 0 559.42,435.17Z" fill="#5f93c6"/>
<path d="M557.58,434.67A190.20,190.20 0 0 1 554.24,444.89L547.18,442.36A182.70,182.70 0 0 0 550.39,432.55Z" fill="#dddde0"/>
<path d="M548.55,432.05A180.80,180.80 0 0 1 545.41,441.67L538.35,439.14A173.30,173.30 0 0 0 541.36,429.92Z" fill="#5f93c6"/>
<path d="M539.53,429.43A171.40,171.40 0 0 1 536.58,438.45L529.52,435.93A163.90,163.90 0 0 0 532.34,427.30Z" fill="#dddde0"/>
<path d="M530.50,426.81A162.00,162.00 0 0 1 527.74,435.24L520.68,432.71A154.50,154.50 0 0 0 523.31,424.68Z" fill="#d9535f"/>
<path d="M562.41,449.93A199.60,199.60 0 0 1 558.16,460.48L551.29,457.48A192.10,192.10 0 0 0 555.38,447.33Z" fill="#a9bfd8"/>
<path d="M553.58,446.71A190.20,190.20 0 0 1 549.56,456.68L542.69,453.69A182.70,182.70 0 0 0 546.54,444.11Z" fill="#dddde0"/>
<path d="M544.74,443.50A180.80,180.80 0 0 1 540.97,452.88L534.09,449.89A173.30,173.30 0 0 0 537.71,440.89Z" fill="#5f93c6"/>
<path d="M535.91,440.28A171.40,171.40 0 0 1 532.37,449.08L525.49,446.09A163.90,163.90 0 0 0 528.88,437.67Z" fill="#a9bfd8"/>
<path d="M527.08,437.06A162.00,162.00 0 0 1 523.77,445.28L516.89,442.29A154.50,154.50 0 0 0 520.05,434.45Z" fill="#d9535f"/>
<path d="M557.38,462.25A199.60,199.60 0 0 1 552.44,472.50L545.78,469.05A192.10,192.10 0 0 0 550.53,459.19Z" fill="#a9bfd8"/>
<path d="M548.78,458.46A190.20,190.20 0 0 1 544.11,468.14L537.45,464.69A182.70,182.70 0 0 0 541.94,455.39Z" fill="#dddde0"/>
<path d="M540.18,454.66A180.80,180.80 0 0 1 535.79,463.77L529.12,460.33A173.30,173.30 0 0 0 533.34,451.59Z" fill="#a9bfd8"/>
<path d="M531.58,450.86A171.40,171.40 0 0 1 527.46,459.41L520.80,455.96A163.90,163.90 0 0 0 524.74,447.79Z" fill="#5f93c6"/>
<path d="M522.98,447.06A162.00,162.00 0 0 1 519.14,455.04L512.47,451.60A154.50,154.50 0 0 0 516.14,443.99Z" fill="#d9535f"/>
<path d="M551.54,474.22A199.60,199.60 0 0 1 545.92,484.11L539.51,480.22A192.10,192.10 0 0 0 544.91,470.70Z" fill="#5f93c6"/>
<path d="M543.21,469.85A190.20,190.20 0 0 1 537.91,479.20L531.49,475.32A182.70,182.70 0 0 0 536.59,466.34Z" fill="#ecbfbd"/>
<path d="M534.89,465.49A180.80,180.80 0 0 1 529.89,474.29L523.47,470.41A173.30,173.30 0 0 0 528.26,461.97Z" fill="#dddde0"/>
<path d="M526.56,461.13A171.40,171.40 0 0 1 521.88,469.38L515.46,465.50A163.90,163.90 0 0 0 519.94,457.61Z" fill="#5f93c6"/>
<path d="M518.23,456.76A162.00,162.00 0 0 1 513.86,464.47L507.44,460.59A154.50,154.50 0 0 0 511.61,453.24Z" fill="#d9535f"/>
<path d="M540.17,493.06A199.60,199.60 0 0 1 533.50,502.28L527.55,497.71A192.10,192.10 0 0 0 533.97,488.84Z" fill="#2a78b6"/>
<path d="M532.37,487.81A190.20,190.20 0 0 1 526.07,496.52L520.12,491.95A182.70,182.70 0 0 0 526.17,483.59Z" fill="#dddde0"/>
<path d="M524.58,482.56A180.80,180.80 0 0 1 518.64,490.76L512.69,486.19A173.30,173.30 0 0 0 518.38,478.33Z" fill="#ecbfbd"/>
<path d="M516.78,477.30A171.40,171.40 0 0 1 511.22,484.99L505.27,480.43A163.90,163.90 0 0 0 510.59,473.08Z" fill="#e2878b"/>
<path d="M508.99,472.05A162.00,162.00 0 0 1 503.79,479.23L497.84,474.67A154.50,154.50 0 0 0 502.79,467.82Z" fill="#ecbfbd"/>
<path d="M532.31,503.81A199.60,199.60 0 0 1 525.04,512.56L519.41,507.61A192.10,192.10 0 0 0 526.41,499.18Z" fill="#2a78b6"/>
<path d="M524.88,498.05A190.20,190.20 0 0 1 518.02,506.32L512.38,501.36A182.70,182.70 0 0 0 518.98,493.42Z" fill="#dddde0"/>
<path d="M517.46,492.29A180.80,180.80 0 0 1 510.99,500.07L505.36,495.12A173.30,173.30 0 0 0 511.55,487.66Z" fill="#dddde0"/>
<path d="M510.03,486.53A171.40,171.40 0 0 1 503.96,493.83L498.33,488.88A163.90,163.90 0 0 0 504.13,481.90Z" fill="#d9535f"/>
<path d="M502.60,480.77A162.00,162.00 0 0 1 496.94,487.58L491.30,482.63A154.50,154.50 0 0 0 496.70,476.13Z" fill="#ecbfbd"/>
<path d="M523.76,514.01A199.60,199.60 0 0 1 515.92,522.26L510.63,516.94A192.10,192.10 0 0 0 518.17,509.00Z" fill="#2a78b6"/>
<path d="M516.73,507.77A190.20,190.20 0 0 1 509.32,515.56L504.04,510.24A182.70,182.70 0 0 0 511.15,502.76Z" fill="#dddde0"/>
<path d="M509.70,501.52A180.80,180.80 0 0 1 502.73,508.86L497.44,503.54A173.30,173.30 0 0 0 504.12,496.51Z" fill="#dddde0"/>
<path d="M502.67,495.28A171.40,171.40 0 0 1 496.14,502.16L490.85,496.84A163.90,163.90 0 0 0 497.10,490.27Z" fill="#d9535f"/>
<path d="M495.65,489.04A162.00,162.00 0 0 1 489.54,495.46L484.25,490.15A154.50,154.50 0 0 0 490.07,484.02Z" fill="#ecbfbd"/>
<path d="M514.54,523.62A199.60,199.60 0 0 1 506.17,531.32L501.25,525.66A192.10,192.10 0 0 0 509.30,518.25Z" fill="#2a78b6"/>
<path d="M507.94,516.92A190.20,190.20 0 0 1 500.04,524.20L495.11,518.54A182.70,182.70 0 0 0 502.71,511.55Z" fill="#dddde0"/>
<path d="M501.35,510.22A180.80,180.80 0 0 1 493.90,517.07L488.98,511.42A173.30,173.30 0 0 0 496.12,504.85Z" fill="#5f93c6"/>
<path d="M494.75,503.52A171.40,171.40 0 0 1 487.77,509.95L482.85,504.29A163.90,163.90 0 0 0 489.52,498.15Z" fill="#e2878b"/>
<path d="M488.16,496.82A162.00,162.00 0 0 1 481.64,502.83L476.71,497.17A154.50,154.50 0 0 0 482.93,491.45Z" fill="#e2878b"/>
<path d="M504.70,532.59A199.60,199.60 0 0 1 495.84,539.72L491.31,533.74A192.10,192.10 0 0 0 499.84,526.88Z" fill="#2a78b6"/>
<path d="M498.57,525.46A190.20,190.20 0 0 1 490.19,532.20L485.66,526.23A182.70,182.70 0 0 0 493.70,519.75Z" fill="#dddde0"/>
<path d="M492.43,518.34A180.80,180.80 0 0 1 484.55,524.68L480.01,518.71A173.30,173.30 0 0 0 487.57,512.63Z" fill="#ecbfbd"/>
<path d="M486.30,511.22A171.40,171.40 0 0 1 478.91,517.17L474.37,511.19A163.90,163.90 0 0 0 481.44,505.51Z" fill="#e2878b"/>
<path d="M480.17,504.09A162.00,162.00 0 0 1 473.26,509.65L468.72,503.68A154.50,154.50 0 0 0 475.31,498.38Z" fill="#dddde0"/>
<path d="M494.29,540.88A199.60,199.60 0 0 1 484.97,547.40L480.85,541.14A192.10,192.10 0 0 0 489.82,534.86Z" fill="#2a78b6"/>
<path d="M488.64,533.36A190.20,190.20 0 0 1 479.84,539.53L475.71,533.27A182.70,182.70 0 0 0 484.17,527.34Z" fill="#ecbfbd"/>
<path d="M483.00,525.85A180.80,180.80 0 0 1 474.71,531.65L470.58,525.39A173.30,173.30 0 0 0 478.53,519.83Z" fill="#e2878b"/>
<path d="M477.35,518.33A171.40,171.40 0 0 1 469.58,523.78L465.45,517.51A163.90,163.90 0 0 0 472.88,512.31Z" fill="#dddde0"/>
<path d="M471.71,510.82A162.00,162.00 0 0 1 464.45,515.90L460.32,509.64A154.50,154.50 0 0 0 467.24,504.79Z" fill="#ecbfbd"/>
<path d="M483.35,548.46A199.60,199.60 0 0 1 473.61,554.35L469.92,547.83A192.10,192.10 0 0 0 479.28,542.16Z" fill="#2a78b6"/>
<path d="M478.22,540.59A190.20,190.20 0 0 1 469.02,546.15L465.32,539.63A182.70,182.70 0 0 0 474.15,534.28Z" fill="#ecbfbd"/>
<path d="M473.08,532.71A180.80,180.80 0 0 1 464.43,537.95L460.72,531.43A173.30,173.30 0 0 0 469.02,526.41Z" fill="#e2878b"/>
<path d="M467.95,524.84A171.40,171.40 0 0 1 459.83,529.75L456.13,523.23A163.90,163.90 0 0 0 463.89,518.53Z" fill="#dddde0"/>
<path d="M462.82,516.96A162.00,162.00 0 0 1 455.24,521.55L451.53,515.03A154.50,154.50 0 0 0 458.76,510.65Z" fill="#ecbfbd"/>
<path d="M471.93,555.30A199.60,199.60 0 0 1 461.82,560.52L458.57,553.77A192.10,192.10 0 0 0 468.29,548.74Z" fill="#2a78b6"/>
<path d="M467.33,547.10A190.20,190.20 0 0 1 457.78,552.04L454.53,545.28A182.70,182.70 0 0 0 463.70,540.54Z" fill="#ecbfbd"/>
<path d="M462.73,538.90A180.80,180.80 0 0 1 453.75,543.55L450.49,536.79A173.30,173.30 0 0 0 459.10,532.34Z" fill="#e2878b"/>
<path d="M458.14,530.70A171.40,171.40 0 0 1 449.71,535.06L446.45,528.30A163.90,163.90 0 0 0 454.51,524.13Z" fill="#dddde0"/>
<path d="M453.54,522.50A162.00,162.00 0 0 1 445.67,526.57L442.41,519.82A154.50,154.50 0 0 0 449.91,515.93Z" fill="#ecbfbd"/>
<path d="M455.31,563.52A199.60,199.60 0 0 1 444.77,567.78L442.15,560.75A192.10,192.10 0 0 0 452.30,556.65Z" fill="#a9bfd8"/>
<path d="M451.50,554.93A190.20,190.20 0 0 1 441.54,558.96L438.92,551.93A182.70,182.70 0 0 0 448.49,548.06Z" fill="#a9bfd8"/>
<path d="M447.68,546.33A180.80,180.80 0 0 1 438.30,550.13L435.69,543.10A173.30,173.30 0 0 0 444.68,539.46Z" fill="#5f93c6"/>
<path d="M443.87,537.74A171.40,171.40 0 0 1 435.07,541.30L432.45,534.28A163.90,163.90 0 0 0 440.86,530.87Z" fill="#e2878b"/>
<path d="M440.05,529.15A162.00,162.00 0 0 1 431.84,532.48L429.22,525.45A154.50,154.50 0 0 0 437.05,522.28Z" fill="#e2878b"/>
<path d="M442.95,568.45A199.60,199.60 0 0 1 432.14,572.01L430.00,564.82A192.10,192.10 0 0 0 440.40,561.40Z" fill="#5f93c6"/>
<path d="M439.72,559.62A190.20,190.20 0 0 1 429.51,562.98L427.36,555.79A182.70,182.70 0 0 0 437.17,552.57Z" fill="#a9bfd8"/>
<path d="M436.48,550.80A180.80,180.80 0 0 1 426.87,553.96L424.73,546.77A173.30,173.30 0 0 0 433.94,543.74Z" fill="#a9bfd8"/>
<path d="M433.25,541.97A171.40,171.40 0 0 1 424.23,544.94L422.09,537.75A163.90,163.90 0 0 0 430.71,534.91Z" fill="#d9535f"/>
<path d="M430.01,533.15A162.00,162.00 0 0 1 421.60,535.91L419.45,528.73A154.50,154.50 0 0 0 427.47,526.09Z" fill="#ecbfbd"/>
<path d="M430.28,572.55A199.60,199.60 0 0 1 419.26,575.38L417.61,568.06A192.10,192.10 0 0 0 428.21,565.34Z" fill="#2a78b6"/>
<path d="M427.65,563.53A190.20,190.20 0 0 1 417.23,566.20L415.58,558.88A182.70,182.70 0 0 0 425.58,556.32Z" fill="#dddde0"/>
<path d="M425.01,554.50A180.80,180.80 0 0 1 415.20,557.02L413.55,549.70A173.30,173.30 0 0 0 422.94,547.29Z" fill="#5f93c6"/>
<path d="M422.37,545.48A171.40,171.40 0 0 1 413.18,547.84L411.51,540.53A163.90,163.90 0 0 0 420.30,538.27Z" fill="#ecbfbd"/>
<path d="M419.73,536.46A162.00,162.00 0 0 1 411.15,538.66L409.48,531.35A154.50,154.50 0 0 0 417.67,529.25Z" fill="#d9535f"/>
<path d="M417.37,575.79A199.60,199.60 0 0 1 406.19,577.88L405.03,570.47A192.10,192.10 0 0 0 415.79,568.46Z" fill="#5f93c6"/>
<path d="M415.34,566.62A190.20,190.20 0 0 1 404.78,568.59L403.61,561.18A182.70,182.70 0 0 0 413.76,559.28Z" fill="#a9bfd8"/>
<path d="M413.31,557.44A180.80,180.80 0 0 1 403.36,559.29L402.19,551.88A173.30,173.30 0 0 0 411.73,550.11Z" fill="#5f93c6"/>
<path d="M411.28,548.26A171.40,171.40 0 0 1 401.95,550.00L400.78,542.59A163.90,163.90 0 0 0 409.70,540.93Z" fill="#ecbfbd"/>
<path d="M409.25,539.08A162.00,162.00 0 0 1 400.54,540.71L399.36,533.30A154.50,154.50 0 0 0 407.67,531.75Z" fill="#d9535f"/>
<path d="M404.28,578.17A199.60,199.60 0 0 1 392.98,579.51L392.31,572.04A192.10,192.10 0 0 0 403.18,570.75Z" fill="#2a78b6"/>
<path d="M402.86,568.88A190.20,190.20 0 0 1 392.19,570.14L391.52,562.67A182.70,182.70 0 0 0 401.77,561.46Z" fill="#dddde0"/>
<path d="M401.44,559.58A180.80,180.80 0 0 1 391.40,560.77L390.72,553.30A173.30,173.30 0 0 0 400.36,552.16Z" fill="#dddde0"/>
<path d="M400.03,550.29A171.40,171.40 0 0 1 390.61,551.41L389.93,543.94A163.90,163.90 0 0 0 398.94,542.87Z" fill="#e2878b"/>
<path d="M398.61,541.00A162.00,162.00 0 0 1 389.81,542.04L389.14,534.57A154.50,154.50 0 0 0 397.53,533.58Z" fill="#e2878b"/>
<path d="M391.05,579.67A199.60,199.60 0 0 1 379.69,580.25L379.52,572.75A192.10,192.10 0 0 0 390.45,572.19Z" fill="#5f93c6"/>
<path d="M390.26,570.30A190.20,190.20 0 0 1 379.52,570.85L379.35,563.35A182.70,182.70 0 0 0 389.66,562.83Z" fill="#a9bfd8"/>
<path d="M389.46,560.94A180.80,180.80 0 0 1 379.36,561.45L379.18,553.95A173.30,173.30 0 0 0 388.87,553.46Z" fill="#dddde0"/>
<path d="M388.67,551.57A171.40,171.40 0 0 1 379.19,552.05L379.02,544.56A163.90,163.90 0 0 0 388.08,544.09Z" fill="#d9535f"/>
<path d="M387.88,542.20A162.00,162.00 0 0 1 379.03,542.65L378.85,535.16A154.50,154.50 0 0 0 387.29,534.73Z" fill="#ecbfbd"/>
<path d="M377.75,580.28A199.60,199.60 0 0 1 366.37,580.10L366.71,572.61A192.10,192.10 0 0 0 377.65,572.78Z" fill="#ecbfbd"/>
<path d="M377.58,570.89A190.20,190.20 0 0 1 366.84,570.72L367.17,563.22A182.70,182.70 0 0 0 377.49,563.39Z" fill="#5f93c6"/>
<path d="M377.42,561.49A180.80,180.80 0 0 1 367.30,561.33L367.63,553.83A173.30,173.30 0 0 0 377.32,553.99Z" fill="#2a78b6"/>
<path d="M377.25,552.09A171.40,171.40 0 0 1 367.76,551.94L368.09,544.45A163.90,163.90 0 0 0 377.16,544.59Z" fill="#e2878b"/>
<path d="M377.08,542.69A162.00,162.00 0 0 1 368.22,542.55L368.55,535.06A154.50,154.50 0 0 0 377.00,535.19Z" fill="#ecbfbd"/>
<path d="M357.49,579.51A199.60,199.60 0 0 1 346.19,578.18L347.28,570.76A192.10,192.10 0 0 0 358.16,572.04Z" fill="#e2878b"/>
<path d="M358.28,570.15A190.20,190.20 0 0 1 347.61,568.89L348.69,561.47A182.70,182.70 0 0 0 358.95,562.68Z" fill="#e2878b"/>
<path d="M359.07,560.78A180.80,180.80 0 0 1 349.02,559.59L350.10,552.17A173.30,173.30 0 0 0 359.74,553.31Z" fill="#ecbfbd"/>
<path d="M359.85,551.41A171.40,171.40 0 0 1 350.43,550.30L351.51,542.88A163.90,163.90 0 0 0 360.53,543.94Z" fill="#5f93c6"/>
<path d="M360.64,542.04A162.00,162.00 0 0 1 351.84,541.01L352.92,533.59A154.50,154.50 0 0 0 361.32,534.57Z" fill="#2a78b6"/>
<path d="M344.28,577.89A199.60,199.60 0 0 1 333.09,575.81L334.68,568.48A192.10,192.10 0 0 0 345.44,570.48Z" fill="#d9535f"/>
<path d="M345.69,568.60A190.20,190.20 0 0 1 335.12,566.63L336.70,559.30A182.70,182.70 0 0 0 346.85,561.19Z" fill="#ecbfbd"/>
<path d="M347.10,559.30A180.80,180.80 0 0 1 337.15,557.45L338.73,550.12A173.30,173.30 0 0 0 348.26,551.89Z" fill="#dddde0"/>
<path d="M348.51,550.01A171.40,171.40 0 0 1 339.18,548.27L340.76,540.94A163.90,163.90 0 0 0 349.68,542.60Z" fill="#a9bfd8"/>
<path d="M349.92,540.72A162.00,162.00 0 0 1 341.21,539.09L342.78,531.76A154.50,154.50 0 0 0 351.09,533.31Z" fill="#2a78b6"/>
<path d="M331.20,575.39A199.60,199.60 0 0 1 320.18,572.57L322.25,565.36A192.10,192.10 0 0 0 332.86,568.08Z" fill="#d9535f"/>
<path d="M333.23,566.21A190.20,190.20 0 0 1 322.82,563.54L324.88,556.33A182.70,182.70 0 0 0 334.89,558.90Z" fill="#a9bfd8"/>
<path d="M335.26,557.03A180.80,180.80 0 0 1 325.45,554.52L327.52,547.31A173.30,173.30 0 0 0 336.91,549.72Z" fill="#5f93c6"/>
<path d="M337.28,547.85A171.40,171.40 0 0 1 328.09,545.50L330.15,538.29A163.90,163.90 0 0 0 338.94,540.54Z" fill="#dddde0"/>
<path d="M339.31,538.67A162.00,162.00 0 0 1 330.73,536.48L332.79,529.26A154.50,154.50 0 0 0 340.97,531.36Z" fill="#dddde0"/>
<path d="M318.32,572.02A199.60,199.60 0 0 1 307.52,568.47L310.06,561.42A192.10,192.10 0 0 0 320.46,564.84Z" fill="#d9535f"/>
<path d="M320.96,563.00A190.20,190.20 0 0 1 310.75,559.65L313.29,552.59A182.70,182.70 0 0 0 323.10,555.81Z" fill="#dddde0"/>
<path d="M323.59,553.98A180.80,180.80 0 0 1 313.98,550.82L316.52,543.76A173.30,173.30 0 0 0 325.73,546.79Z" fill="#5f93c6"/>
<path d="M326.23,544.95A171.40,171.40 0 0 1 317.21,541.99L319.75,534.93A163.90,163.90 0 0 0 328.37,537.77Z" fill="#a9bfd8"/>
<path d="M328.86,535.93A162.00,162.00 0 0 1 320.44,533.16L322.98,526.11A154.50,154.50 0 0 0 331.00,528.74Z" fill="#a9bfd8"/>
<path d="M299.21,565.27A199.60,199.60 0 0 1 288.82,560.64L292.06,553.88A192.10,192.10 0 0 0 302.06,558.33Z" fill="#d9535f"/>
<path d="M302.75,556.56A190.20,190.20 0 0 1 292.93,552.19L296.17,545.42A182.70,182.70 0 0 0 305.60,549.62Z" fill="#dddde0"/>
<path d="M306.28,547.85A180.80,180.80 0 0 1 297.04,543.73L300.28,536.97A173.30,173.30 0 0 0 309.14,540.92Z" fill="#dddde0"/>
<path d="M309.82,539.14A171.40,171.40 0 0 1 301.15,535.28L304.39,528.51A163.90,163.90 0 0 0 312.68,532.21Z" fill="#a9bfd8"/>
<path d="M313.35,530.43A162.00,162.00 0 0 1 305.26,526.82L308.50,520.06A154.50,154.50 0 0 0 316.22,523.50Z" fill="#5f93c6"/>
<path d="M287.08,559.79A199.60,199.60 0 0 1 277.02,554.48L280.70,547.95A192.10,192.10 0 0 0 290.39,553.06Z" fill="#d9535f"/>
<path d="M291.18,551.34A190.20,190.20 0 0 1 281.68,546.32L285.37,539.79A182.70,182.70 0 0 0 294.50,544.61Z" fill="#dddde0"/>
<path d="M295.29,542.88A180.80,180.80 0 0 1 286.34,538.16L290.03,531.63A173.30,173.30 0 0 0 298.61,536.16Z" fill="#a9bfd8"/>
<path d="M299.40,534.43A171.40,171.40 0 0 1 291.01,530.00L294.69,523.46A163.90,163.90 0 0 0 302.72,527.70Z" fill="#5f93c6"/>
<path d="M303.51,525.97A162.00,162.00 0 0 1 295.67,521.84L299.36,515.30A154.50,154.50 0 0 0 306.83,519.25Z" fill="#a9bfd8"/>
<path d="M275.33,553.52A199.60,199.60 0 0 1 265.65,547.55L269.77,541.28A192.10,192.10 0 0 0 279.09,547.03Z" fill="#d9535f"/>
<path d="M280.00,545.36A190.20,190.20 0 0 1 270.85,539.72L274.96,533.45A182.70,182.70 0 0 0 283.75,538.87Z" fill="#dddde0"/>
<path d="M284.66,537.20A180.80,180.80 0 0 1 276.05,531.89L280.16,525.61A173.30,173.30 0 0 0 288.42,530.70Z" fill="#a9bfd8"/>
<path d="M289.32,529.03A171.40,171.40 0 0 1 281.24,524.05L285.36,517.78A163.90,163.90 0 0 0 293.08,522.54Z" fill="#5f93c6"/>
<path d="M293.98,520.87A162.00,162.00 0 0 1 286.44,516.22L290.55,509.95A154.50,154.50 0 0 0 297.74,514.38Z" fill="#a9bfd8"/>
<path d="M264.04,546.48A199.60,199.60 0 0 1 254.77,539.88L259.30,533.90A192.10,192.10 0 0 0 268.21,540.25Z" fill="#d9535f"/>
<path d="M269.23,538.65A190.20,190.20 0 0 1 260.48,532.41L265.00,526.43A182.70,182.70 0 0 0 273.41,532.42Z" fill="#ecbfbd"/>
<path d="M274.43,530.81A180.80,180.80 0 0 1 266.19,524.94L270.71,518.96A173.30,173.30 0 0 0 278.61,524.59Z" fill="#a9bfd8"/>
<path d="M279.63,522.98A171.40,171.40 0 0 1 271.90,517.47L276.42,511.49A163.90,163.90 0 0 0 283.81,516.75Z" fill="#2a78b6"/>
<path d="M284.82,515.15A162.00,162.00 0 0 1 277.61,510.00L282.12,504.02A154.50,154.50 0 0 0 289.01,508.92Z" fill="#a9bfd8"/>
<path d="M253.23,538.70A199.60,199.60 0 0 1 244.43,531.50L249.34,525.83A192.10,192.10 0 0 0 257.82,532.76Z" fill="#d9535f"/>
<path d="M258.94,531.23A190.20,190.20 0 0 1 250.62,524.42L255.54,518.76A182.70,182.70 0 0 0 263.52,525.30Z" fill="#ecbfbd"/>
<path d="M264.65,523.76A180.80,180.80 0 0 1 256.82,517.35L261.73,511.68A173.30,173.30 0 0 0 269.23,517.83Z" fill="#dddde0"/>
<path d="M270.35,516.29A171.40,171.40 0 0 1 263.01,510.28L267.92,504.61A163.90,163.90 0 0 0 274.94,510.36Z" fill="#5f93c6"/>
<path d="M276.06,508.82A162.00,162.00 0 0 1 269.20,503.21L274.11,497.54A154.50,154.50 0 0 0 280.65,502.89Z" fill="#5f93c6"/>
<path d="M242.97,530.22A199.60,199.60 0 0 1 234.67,522.44L239.95,517.12A192.10,192.10 0 0 0 247.94,524.60Z" fill="#d9535f"/>
<path d="M249.16,523.15A190.20,190.20 0 0 1 241.32,515.80L246.60,510.47A182.70,182.70 0 0 0 254.13,517.53Z" fill="#dddde0"/>
<path d="M255.36,516.07A180.80,180.80 0 0 1 247.97,509.16L253.25,503.83A173.30,173.30 0 0 0 260.33,510.46Z" fill="#ecbfbd"/>
<path d="M261.55,509.00A171.40,171.40 0 0 1 254.62,502.52L259.90,497.19A163.90,163.90 0 0 0 266.52,503.39Z" fill="#a9bfd8"/>
<path d="M267.74,501.93A162.00,162.00 0 0 1 261.27,495.87L266.55,490.54A154.50,154.50 0 0 0 272.72,496.32Z" fill="#2a78b6"/>
<path d="M233.30,521.07A199.60,199.60 0 0 1 225.53,512.76L231.16,507.80A192.10,192.10 0 0 0 238.63,515.80Z" fill="#dddde0"/>
<path d="M239.95,514.43A190.20,190.20 0 0 1 232.61,506.58L238.23,501.61A182.70,182.70 0 0 0 245.28,509.16Z" fill="#e2878b"/>
<path d="M246.60,507.79A180.80,180.80 0 0 1 239.69,500.39L245.31,495.43A173.30,173.30 0 0 0 251.93,502.51Z" fill="#e2878b"/>
<path d="M253.25,501.14A171.40,171.40 0 0 1 246.77,494.21L252.39,489.24A163.90,163.90 0 0 0 258.59,495.87Z" fill="#a9bfd8"/>
<path d="M259.90,494.50A162.00,162.00 0 0 1 253.85,488.02L259.47,483.05A154.50,154.50 0 0 0 265.24,489.23Z" fill="#2a78b6"/>
<path d="M224.26,511.30A199.60,199.60 0 0 1 217.06,502.49L223.01,497.91A192.10,192.10 0 0 0 229.93,506.39Z" fill="#ecbfbd"/>
<path d="M231.34,505.12A190.20,190.20 0 0 1 224.54,496.79L230.48,492.21A182.70,182.70 0 0 0 237.01,500.21Z" fill="#e2878b"/>
<path d="M238.41,498.93A180.80,180.80 0 0 1 232.01,491.09L237.95,486.51A173.30,173.30 0 0 0 244.09,494.03Z" fill="#e2878b"/>
<path d="M245.49,492.74A171.40,171.40 0 0 1 239.49,485.39L245.43,480.81A163.90,163.90 0 0 0 251.17,487.84Z" fill="#5f93c6"/>
<path d="M252.57,486.56A162.00,162.00 0 0 1 246.97,479.70L252.90,475.11A154.50,154.50 0 0 0 258.25,481.66Z" fill="#2a78b6"/>
<path d="M215.89,500.95A199.60,199.60 0 0 1 209.30,491.68L215.53,487.51A192.10,192.10 0 0 0 221.88,496.43Z" fill="#ecbfbd"/>
<path d="M223.36,495.25A190.20,190.20 0 0 1 217.14,486.49L223.37,482.32A182.70,182.70 0 0 0 229.35,490.73Z" fill="#e2878b"/>
<path d="M230.84,489.55A180.80,180.80 0 0 1 224.97,481.30L231.21,477.13A173.30,173.30 0 0 0 236.83,485.03Z" fill="#ecbfbd"/>
<path d="M238.31,483.85A171.40,171.40 0 0 1 232.81,476.12L239.04,471.94A163.90,163.90 0 0 0 244.30,479.34Z" fill="#5f93c6"/>
<path d="M245.79,478.15A162.00,162.00 0 0 1 240.65,470.93L246.88,466.75A154.50,154.50 0 0 0 251.78,473.64Z" fill="#5f93c6"/>
<path d="M208.23,490.06A199.60,199.60 0 0 1 202.27,480.37L208.77,476.63A192.10,192.10 0 0 0 214.50,485.95Z" fill="#dddde0"/>
<path d="M216.07,484.87A190.20,190.20 0 0 1 210.44,475.72L216.93,471.97A182.70,182.70 0 0 0 222.34,480.77Z" fill="#5f93c6"/>
<path d="M223.90,479.69A180.80,180.80 0 0 1 218.60,471.07L225.10,467.32A173.30,173.30 0 0 0 230.18,475.58Z" fill="#2a78b6"/>
<path d="M231.74,474.50A171.40,171.40 0 0 1 226.77,466.41L233.27,462.66A163.90,163.90 0 0 0 238.02,470.39Z" fill="#dddde0"/>
<path d="M239.58,469.31A162.00,162.00 0 0 1 234.94,461.76L241.43,458.01A154.50,154.50 0 0 0 245.86,465.20Z" fill="#d9535f"/>
<path d="M201.31,478.69A199.60,199.60 0 0 1 196.01,468.62L202.74,465.32A192.10,192.10 0 0 0 207.84,475.01Z" fill="#a9bfd8"/>
<path d="M209.48,474.04A190.20,190.20 0 0 1 204.47,464.53L211.20,461.22A182.70,182.70 0 0 0 216.01,470.35Z" fill="#5f93c6"/>
<path d="M217.64,469.38A180.80,180.80 0 0 1 212.93,460.43L219.66,457.12A173.30,173.30 0 0 0 224.18,465.70Z" fill="#a9bfd8"/>
<path d="M225.81,464.72A171.40,171.40 0 0 1 221.39,456.33L228.12,453.02A163.90,163.90 0 0 0 232.35,461.05Z" fill="#dddde0"/>
<path d="M233.97,460.07A162.00,162.00 0 0 1 229.85,452.23L236.58,448.92A154.50,154.50 0 0 0 240.51,456.39Z" fill="#d9535f"/>
<path d="M195.16,466.88A199.60,199.60 0 0 1 190.55,456.48L197.48,453.64A192.10,192.10 0 0 0 201.93,463.64Z" fill="#dddde0"/>
<path d="M203.62,462.78A190.20,190.20 0 0 1 199.26,452.96L206.20,450.11A182.70,182.70 0 0 0 210.39,459.54Z" fill="#a9bfd8"/>
<path d="M212.08,458.68A180.80,180.80 0 0 1 207.97,449.43L214.91,446.58A173.30,173.30 0 0 0 218.85,455.45Z" fill="#a9bfd8"/>
<path d="M220.54,454.58A171.40,171.40 0 0 1 216.69,445.91L223.62,443.05A163.90,163.90 0 0 0 227.31,451.35Z" fill="#dddde0"/>
<path d="M229.00,450.48A162.00,162.00 0 0 1 225.40,442.38L232.34,439.53A154.50,154.50 0 0 0 235.77,447.25Z" fill="#d9535f"/>
<path d="M189.82,454.69A199.60,199.60 0 0 1 185.91,444.01L193.02,441.63A192.10,192.10 0 0 0 196.79,451.91Z" fill="#dddde0"/>
<path d="M198.53,451.16A190.20,190.20 0 0 1 194.84,441.07L201.95,438.69A182.70,182.70 0 0 0 205.50,448.38Z" fill="#a9bfd8"/>
<path d="M207.25,447.63A180.80,180.80 0 0 1 203.76,438.13L210.88,435.75A173.30,173.30 0 0 0 214.21,444.86Z" fill="#a9bfd8"/>
<path d="M215.96,444.11A171.40,171.40 0 0 1 212.69,435.20L219.80,432.81A163.90,163.90 0 0 0 222.93,441.33Z" fill="#a9bfd8"/>
<path d="M224.67,440.58A162.00,162.00 0 0 1 221.62,432.26L228.73,429.87A154.50,154.50 0 0 0 231.64,437.81Z" fill="#d9535f"/>
<path d="M185.30,442.17A199.60,199.60 0 0 1 182.11,431.25L189.36,429.35A192.10,192.10 0 0 0 192.44,439.86Z" fill="#a9bfd8"/>
<path d="M194.23,439.23A190.20,190.20 0 0 1 191.21,428.91L198.47,427.01A182.70,182.70 0 0 0 201.37,436.92Z" fill="#a9bfd8"/>
<path d="M203.16,436.29A180.80,180.80 0 0 1 200.32,426.58L207.57,424.67A173.30,173.30 0 0 0 210.29,433.98Z" fill="#a9bfd8"/>
<path d="M212.09,433.35A171.40,171.40 0 0 1 209.42,424.24L216.68,422.34A163.90,163.90 0 0 0 219.22,431.05Z" fill="#a9bfd8"/>
<path d="M221.02,430.41A162.00,162.00 0 0 1 218.53,421.91L225.78,420.00A154.50,154.50 0 0 0 228.15,428.11Z" fill="#d9535f"/>
<path d="M181.63,429.37A199.60,199.60 0 0 1 179.17,418.27L186.53,416.85A192.10,192.10 0 0 0 188.90,427.54Z" fill="#5f93c6"/>
<path d="M190.73,427.04A190.20,190.20 0 0 1 188.41,416.54L195.77,415.13A182.70,182.70 0 0 0 198.00,425.21Z" fill="#a9bfd8"/>
<path d="M199.84,424.70A180.80,180.80 0 0 1 197.65,414.82L205.01,413.40A173.30,173.30 0 0 0 207.11,422.87Z" fill="#a9bfd8"/>
<path d="M208.94,422.36A171.40,171.40 0 0 1 206.89,413.10L214.25,411.68A163.90,163.90 0 0 0 216.22,420.54Z" fill="#a9bfd8"/>
<path d="M218.05,420.02A162.00,162.00 0 0 1 216.13,411.37L223.49,409.95A154.50,154.50 0 0 0 225.32,418.20Z" fill="#d9535f"/>
<path d="M178.81,416.36A199.60,199.60 0 0 1 177.10,405.11L184.54,404.20A192.10,192.10 0 0 0 186.19,415.02Z" fill="#5f93c6"/>
<path d="M188.05,414.64A190.20,190.20 0 0 1 186.43,404.01L193.88,403.09A182.70,182.70 0 0 0 195.43,413.30Z" fill="#a9bfd8"/>
<path d="M197.29,412.91A180.80,180.80 0 0 1 195.77,402.91L203.21,401.99A173.30,173.30 0 0 0 204.67,411.58Z" fill="#5f93c6"/>
<path d="M206.53,411.19A171.40,171.40 0 0 1 205.10,401.80L212.55,400.88A163.90,163.90 0 0 0 213.91,409.85Z" fill="#dddde0"/>
<path d="M215.77,409.46A162.00,162.00 0 0 1 214.44,400.70L221.88,399.77A154.50,154.50 0 0 0 223.15,408.13Z" fill="#d9535f"/>
<path d="M176.87,403.19A199.60,199.60 0 0 1 175.91,391.86L183.40,391.44A192.10,192.10 0 0 0 184.32,402.35Z" fill="#2a78b6"/>
<path d="M186.21,402.09A190.20,190.20 0 0 1 185.30,391.38L192.79,390.96A182.70,182.70 0 0 0 193.66,401.24Z" fill="#dddde0"/>
<path d="M195.54,400.98A180.80,180.80 0 0 1 194.69,390.90L202.18,390.47A173.30,173.30 0 0 0 202.99,400.14Z" fill="#dddde0"/>
<path d="M204.88,399.88A171.40,171.40 0 0 1 204.08,390.42L211.56,389.99A163.90,163.90 0 0 0 212.33,399.04Z" fill="#ecbfbd"/>
<path d="M214.21,398.77A162.00,162.00 0 0 1 213.46,389.94L220.95,389.51A154.50,154.50 0 0 0 221.66,397.93Z" fill="#d9535f"/>
<path d="M175.81,389.92A199.60,199.60 0 0 1 175.61,378.55L183.11,378.63A192.10,192.10 0 0 0 183.31,389.58Z" fill="#5f93c6"/>
<path d="M185.20,389.44A190.20,190.20 0 0 1 185.01,378.69L192.51,378.77A182.70,182.70 0 0 0 192.69,389.10Z" fill="#5f93c6"/>
<path d="M194.59,388.96A180.80,180.80 0 0 1 194.41,378.84L201.91,378.92A173.30,173.30 0 0 0 202.08,388.62Z" fill="#dddde0"/>
<path d="M203.98,388.48A171.40,171.40 0 0 1 203.81,378.99L211.31,379.07A163.90,163.90 0 0 0 211.47,388.14Z" fill="#ecbfbd"/>
<path d="M213.36,388.00A162.00,162.00 0 0 1 213.21,379.14L220.71,379.21A154.50,154.50 0 0 0 220.86,387.66Z" fill="#d9535f"/>
<path d="M175.91,369.65A199.60,199.60 0 0 1 176.86,358.31L184.31,359.15A192.10,192.10 0 0 0 183.39,370.06Z" fill="#2a78b6"/>
<path d="M185.29,370.12A190.20,190.20 0 0 1 186.20,359.41L193.65,360.25A182.70,182.70 0 0 0 192.78,370.54Z" fill="#dddde0"/>
<path d="M194.68,370.60A180.80,180.80 0 0 1 195.53,360.51L202.98,361.35A173.30,173.30 0 0 0 202.17,371.02Z" fill="#e2878b"/>
<path d="M204.07,371.07A171.40,171.40 0 0 1 204.87,361.61L212.32,362.45A163.90,163.90 0 0 0 211.56,371.49Z" fill="#e2878b"/>
<path d="M213.46,371.54A162.00,162.00 0 0 1 214.20,362.71L221.66,363.55A154.50,154.50 0 0 0 220.95,371.97Z" fill="#a9bfd8"/>
<path d="M177.09,356.39A199.60,199.60 0 0 1 178.79,345.14L186.17,346.48A192.10,192.10 0 0 0 184.53,357.30Z" fill="#e2878b"/>
<path d="M186.42,357.49A190.20,190.20 0 0 1 188.03,346.86L195.41,348.20A182.70,182.70 0 0 0 193.87,358.40Z" fill="#dddde0"/>
<path d="M195.76,358.59A180.80,180.80 0 0 1 197.28,348.58L204.66,349.91A173.30,173.30 0 0 0 203.20,359.50Z" fill="#5f93c6"/>
<path d="M205.09,359.68A171.40,171.40 0 0 1 206.52,350.30L213.90,351.63A163.90,163.90 0 0 0 212.54,360.60Z" fill="#5f93c6"/>
<path d="M214.43,360.78A162.00,162.00 0 0 1 215.76,352.02L223.14,353.35A154.50,154.50 0 0 0 221.87,361.71Z" fill="#e2878b"/>
<path d="M179.15,343.24A199.60,199.60 0 0 1 181.60,332.13L188.87,333.95A192.10,192.10 0 0 0 186.51,344.65Z" fill="#d9535f"/>
<path d="M188.39,344.96A190.20,190.20 0 0 1 190.71,334.46L197.98,336.28A182.70,182.70 0 0 0 195.76,346.37Z" fill="#a9bfd8"/>
<path d="M197.63,346.67A180.80,180.80 0 0 1 199.81,336.79L207.09,338.61A173.30,173.30 0 0 0 205.00,348.09Z" fill="#5f93c6"/>
<path d="M206.87,348.39A171.40,171.40 0 0 1 208.92,339.13L216.19,340.95A163.90,163.90 0 0 0 214.24,349.81Z" fill="#5f93c6"/>
<path d="M216.11,350.11A162.00,162.00 0 0 1 218.02,341.46L225.30,343.28A154.50,154.50 0 0 0 223.48,351.53Z" fill="#dddde0"/>
<path d="M182.08,330.25A199.60,199.60 0 0 1 185.27,319.33L192.40,321.64A192.10,192.10 0 0 0 189.34,332.15Z" fill="#d9535f"/>
<path d="M191.19,332.58A190.20,190.20 0 0 1 194.20,322.27L201.34,324.57A182.70,182.70 0 0 0 198.44,334.48Z" fill="#dddde0"/>
<path d="M200.29,334.91A180.80,180.80 0 0 1 203.13,325.20L210.27,327.50A173.30,173.30 0 0 0 207.55,336.81Z" fill="#5f93c6"/>
<path d="M209.40,337.24A171.40,171.40 0 0 1 212.06,328.13L219.20,330.43A163.90,163.90 0 0 0 216.66,339.15Z" fill="#5f93c6"/>
<path d="M218.51,339.57A162.00,162.00 0 0 1 220.99,331.07L228.13,333.37A154.50,154.50 0 0 0 225.76,341.48Z" fill="#dddde0"/>
<path d="M185.87,317.49A199.60,199.60 0 0 1 189.78,306.81L196.75,309.58A192.10,192.10 0 0 0 192.99,319.87Z" fill="#d9535f"/>
<path d="M194.80,320.42A190.20,190.20 0 0 1 198.50,310.33L205.46,313.11A182.70,182.70 0 0 0 201.92,322.80Z" fill="#dddde0"/>
<path d="M203.73,323.36A180.80,180.80 0 0 1 207.21,313.85L214.18,316.63A173.30,173.30 0 0 0 210.85,325.74Z" fill="#2a78b6"/>
<path d="M212.67,326.29A171.40,171.40 0 0 1 215.93,317.38L222.90,320.15A163.90,163.90 0 0 0 219.78,328.67Z" fill="#dddde0"/>
<path d="M221.60,329.22A162.00,162.00 0 0 1 224.64,320.90L231.61,323.67A154.50,154.50 0 0 0 228.71,331.60Z" fill="#ecbfbd"/>
<path d="M190.51,305.01A199.60,199.60 0 0 1 195.12,294.61L201.89,297.85A192.10,192.10 0 0 0 197.45,307.86Z" fill="#d9535f"/>
<path d="M199.22,308.53A190.20,190.20 0 0 1 203.58,298.71L210.35,301.94A182.70,182.70 0 0 0 206.16,311.38Z" fill="#ecbfbd"/>
<path d="M207.94,312.06A180.80,180.80 0 0 1 212.04,302.81L218.81,306.04A173.30,173.30 0 0 0 214.88,314.90Z" fill="#a9bfd8"/>
<path d="M216.65,315.58A171.40,171.40 0 0 1 220.50,306.90L227.27,310.13A163.90,163.90 0 0 0 223.59,318.43Z" fill="#5f93c6"/>
<path d="M225.37,319.10A162.00,162.00 0 0 1 228.96,311.00L235.73,314.22A154.50,154.50 0 0 0 232.31,321.95Z" fill="#5f93c6"/>
<path d="M199.14,286.67A199.60,199.60 0 0 1 204.78,276.79L211.18,280.69A192.10,192.10 0 0 0 205.75,290.20Z" fill="#d9535f"/>
<path d="M207.45,291.06A190.20,190.20 0 0 1 212.78,281.72L219.19,285.63A182.70,182.70 0 0 0 214.07,294.59Z" fill="#2a78b6"/>
<path d="M215.76,295.44A180.80,180.80 0 0 1 220.78,286.66L227.19,290.56A173.30,173.30 0 0 0 222.38,298.98Z" fill="#dddde0"/>
<path d="M224.08,299.83A171.40,171.40 0 0 1 228.79,291.59L235.19,295.49A163.90,163.90 0 0 0 230.69,303.37Z" fill="#a9bfd8"/>
<path d="M232.39,304.22A162.00,162.00 0 0 1 236.79,296.52L243.19,300.42A154.50,154.50 0 0 0 239.00,307.76Z" fill="#ecbfbd"/>
<path d="M205.80,275.14A199.60,199.60 0 0 1 212.09,265.66L218.22,269.98A192.10,192.10 0 0 0 212.16,279.11Z" fill="#ecbfbd"/>
<path d="M213.80,280.07A190.20,190.20 0 0 1 219.74,271.12L225.87,275.44A182.70,182.70 0 0 0 220.16,284.04Z" fill="#a9bfd8"/>
<path d="M221.80,285.00A180.80,180.80 0 0 1 227.40,276.57L233.53,280.89A173.30,173.30 0 0 0 228.17,288.97Z" fill="#5f93c6"/>
<path d="M229.80,289.94A171.40,171.40 0 0 1 235.05,282.03L241.18,286.35A163.90,163.90 0 0 0 236.17,293.91Z" fill="#a9bfd8"/>
<path d="M237.81,294.87A162.00,162.00 0 0 1 242.71,287.48L248.84,291.80A154.50,154.50 0 0 0 244.17,298.84Z" fill="#d9535f"/>
<path d="M213.21,264.08A199.60,199.60 0 0 1 220.12,255.04L225.94,259.77A192.10,192.10 0 0 0 219.30,268.47Z" fill="#e2878b"/>
<path d="M220.87,269.54A190.20,190.20 0 0 1 227.39,261.00L233.22,265.72A182.70,182.70 0 0 0 226.95,273.92Z" fill="#a9bfd8"/>
<path d="M228.52,274.99A180.80,180.80 0 0 1 234.67,266.95L240.50,271.67A173.30,173.30 0 0 0 234.61,279.38Z" fill="#a9bfd8"/>
<path d="M236.18,280.45A171.40,171.40 0 0 1 241.94,272.91L247.77,277.62A163.90,163.90 0 0 0 242.26,284.83Z" fill="#2a78b6"/>
<path d="M243.83,285.90A162.00,162.00 0 0 1 249.21,278.86L255.05,283.57A154.50,154.50 0 0 0 249.92,290.29Z" fill="#e2878b"/>
<path d="M221.34,253.55A199.60,199.60 0 0 1 228.84,244.99L234.34,250.09A192.10,192.10 0 0 0 227.12,258.32Z" fill="#e2878b"/>
<path d="M228.62,259.50A190.20,190.20 0 0 1 235.70,251.41L241.20,256.51A182.70,182.70 0 0 0 234.40,264.28Z" fill="#dddde0"/>
<path d="M235.89,265.45A180.80,180.80 0 0 1 242.56,257.84L248.06,262.93A173.30,173.30 0 0 0 241.67,270.23Z" fill="#5f93c6"/>
<path d="M243.17,271.40A171.40,171.40 0 0 1 249.42,264.26L254.92,269.36A163.90,163.90 0 0 0 248.95,276.19Z" fill="#5f93c6"/>
<path d="M250.45,277.35A162.00,162.00 0 0 1 256.28,270.69L261.79,275.78A154.50,154.50 0 0 0 256.22,282.14Z" fill="#ecbfbd"/>
<path d="M230.16,243.57A199.60,199.60 0 0 1 238.21,235.53L243.36,240.99A192.10,192.10 0 0 0 235.61,248.73Z" fill="#d9535f"/>
<path d="M237.02,250.00A190.20,190.20 0 0 1 244.63,242.40L249.78,247.85A182.70,182.70 0 0 0 242.47,255.15Z" fill="#ecbfbd"/>
<path d="M243.89,256.42A180.80,180.80 0 0 1 251.04,249.27L256.19,254.72A173.30,173.30 0 0 0 249.33,261.58Z" fill="#5f93c6"/>
<path d="M250.75,262.84A171.40,171.40 0 0 1 257.46,256.14L262.61,261.59A163.90,163.90 0 0 0 256.19,268.00Z" fill="#5f93c6"/>
<path d="M257.61,269.27A162.00,162.00 0 0 1 263.88,263.01L269.03,268.46A154.50,154.50 0 0 0 263.06,274.43Z" fill="#dddde0"/>
<path d="M239.62,234.21A199.60,199.60 0 0 1 248.19,226.72L252.96,232.51A192.10,192.10 0 0 0 244.72,239.71Z" fill="#d9535f"/>
<path d="M246.04,241.08A190.20,190.20 0 0 1 254.14,234.00L258.91,239.79A182.70,182.70 0 0 0 251.14,246.58Z" fill="#5f93c6"/>
<path d="M252.46,247.94A180.80,180.80 0 0 1 260.08,241.29L264.86,247.07A173.30,173.30 0 0 0 257.55,253.45Z" fill="#ecbfbd"/>
<path d="M258.88,254.81A171.40,171.40 0 0 1 266.03,248.57L270.80,254.35A163.90,163.90 0 0 0 263.97,260.32Z" fill="#dddde0"/>
<path d="M265.30,261.68A162.00,162.00 0 0 1 271.97,255.85L276.75,261.63A154.50,154.50 0 0 0 270.39,267.19Z" fill="#5f93c6"/>
<path d="M249.69,225.50A199.60,199.60 0 0 1 258.74,218.60L263.11,224.69A192.10,192.10 0 0 0 254.41,231.33Z" fill="#d9535f"/>
<path d="M255.64,232.78A190.20,190.20 0 0 1 264.18,226.26L268.56,232.35A182.70,182.70 0 0 0 260.35,238.61Z" fill="#a9bfd8"/>
<path d="M261.58,240.06A180.80,180.80 0 0 1 269.63,233.92L274.01,240.01A173.30,173.30 0 0 0 266.30,245.89Z" fill="#ecbfbd"/>
<path d="M267.53,247.34A171.40,171.40 0 0 1 275.08,241.58L279.46,247.67A163.90,163.90 0 0 0 272.24,253.17Z" fill="#a9bfd8"/>
<path d="M273.48,254.62A162.00,162.00 0 0 1 280.52,249.24L284.91,255.33A154.50,154.50 0 0 0 278.19,260.45Z" fill="#5f93c6"/>
<path d="M260.31,217.48A199.60,199.60 0 0 1 269.80,211.20L273.76,217.57A192.10,192.10 0 0 0 264.63,223.61Z" fill="#d9535f"/>
<path d="M265.76,225.14A190.20,190.20 0 0 1 274.73,219.20L278.69,225.57A182.70,182.70 0 0 0 270.08,231.27Z" fill="#a9bfd8"/>
<path d="M271.21,232.80A180.80,180.80 0 0 1 279.65,227.21L283.61,233.58A173.30,173.30 0 0 0 275.53,238.93Z" fill="#a9bfd8"/>
<path d="M276.66,240.46A171.40,171.40 0 0 1 284.57,235.22L288.54,241.58A163.90,163.90 0 0 0 280.97,246.59Z" fill="#dddde0"/>
<path d="M282.11,248.12A162.00,162.00 0 0 1 289.50,243.23L293.46,249.59A154.50,154.50 0 0 0 286.42,254.26Z" fill="#a9bfd8"/>
<path d="M271.45,210.18A199.60,199.60 0 0 1 281.33,204.55L284.86,211.17A192.10,192.10 0 0 0 275.35,216.59Z" fill="#e2878b"/>
<path d="M276.38,218.19A190.20,190.20 0 0 1 285.71,212.87L289.24,219.48A182.70,182.70 0 0 0 280.27,224.60Z" fill="#d9535f"/>
<path d="M281.30,226.20A180.80,180.80 0 0 1 290.09,221.18L293.62,227.80A173.30,173.30 0 0 0 285.20,232.60Z" fill="#dddde0"/>
<path d="M286.23,234.20A171.40,171.40 0 0 1 294.47,229.50L298.00,236.12A163.90,163.90 0 0 0 290.12,240.61Z" fill="#2a78b6"/>
<path d="M291.15,242.21A162.00,162.00 0 0 1 298.85,237.82L302.39,244.43A154.50,154.50 0 0 0 295.04,248.62Z" fill="#5f93c6"/>
<path d="M283.05,203.65A199.60,199.60 0 0 1 293.28,198.68L296.36,205.52A192.10,192.10 0 0 0 286.51,210.30Z" fill="#e2878b"/>
<path d="M287.43,211.96A190.20,190.20 0 0 1 297.10,207.27L300.18,214.11A182.70,182.70 0 0 0 290.89,218.62Z" fill="#dddde0"/>
<path d="M291.81,220.28A180.80,180.80 0 0 1 300.91,215.87L304.00,222.70A173.30,173.30 0 0 0 295.27,226.93Z" fill="#e2878b"/>
<path d="M296.19,228.60A171.40,171.40 0 0 1 304.73,224.46L307.81,231.29A163.90,163.90 0 0 0 299.65,235.25Z" fill="#5f93c6"/>
<path d="M300.57,236.91A162.00,162.00 0 0 1 308.55,233.05L311.63,239.88A154.50,154.50 0 0 0 304.03,243.57Z" fill="#2a78b6"/>
<path d="M295.05,197.90A199.60,199.60 0 0 1 305.60,193.63L308.21,200.66A192.10,192.10 0 0 0 298.07,204.77Z" fill="#2a78b6"/>
<path d="M298.87,206.49A190.20,190.20 0 0 1 308.83,202.45L311.45,209.48A182.70,182.70 0 0 0 301.88,213.36Z" fill="#dddde0"/>
<path d="M302.69,215.08A180.80,180.80 0 0 1 312.07,211.28L314.69,218.31A173.30,173.30 0 0 0 305.70,221.95Z" fill="#a9bfd8"/>
<path d="M306.51,223.67A171.40,171.40 0 0 1 315.30,220.11L317.92,227.13A163.90,163.90 0 0 0 309.51,230.54Z" fill="#dddde0"/>
<path d="M310.32,232.26A162.00,162.00 0 0 1 318.54,228.93L321.16,235.96A154.50,154.50 0 0 0 313.33,239.13Z" fill="#d9535f"/>
<path d="M307.42,192.96A199.60,199.60 0 0 1 318.22,189.40L320.36,196.59A192.10,192.10 0 0 0 309.96,200.02Z" fill="#5f93c6"/>
<path d="M310.65,201.79A190.20,190.20 0 0 1 320.86,198.43L323.00,205.61A182.70,182.70 0 0 0 313.20,208.84Z" fill="#5f93c6"/>
<path d="M313.89,210.61A180.80,180.80 0 0 1 323.50,207.45L325.65,214.64A173.30,173.30 0 0 0 316.43,217.67Z" fill="#a9bfd8"/>
<path d="M317.13,219.44A171.40,171.40 0 0 1 326.14,216.47L328.29,223.66A163.90,163.90 0 0 0 319.67,226.49Z" fill="#d9535f"/>
<path d="M320.36,228.26A162.00,162.00 0 0 1 328.78,225.49L330.93,232.68A154.50,154.50 0 0 0 322.90,235.32Z" fill="#ecbfbd"/>
<path d="M326.81,187.05A199.60,199.60 0 0 1 337.92,184.61L339.32,191.98A192.10,192.10 0 0 0 328.63,194.33Z" fill="#a9bfd8"/>
<path d="M329.13,196.16A190.20,190.20 0 0 1 339.63,193.86L341.03,201.22A182.70,182.70 0 0 0 330.95,203.44Z" fill="#ecbfbd"/>
<path d="M331.46,205.27A180.80,180.80 0 0 1 341.34,203.10L342.75,210.47A173.30,173.30 0 0 0 333.27,212.55Z" fill="#e2878b"/>
<path d="M333.78,214.38A171.40,171.40 0 0 1 343.05,212.34L344.46,219.71A163.90,163.90 0 0 0 335.60,221.66Z" fill="#ecbfbd"/>
<path d="M336.11,223.49A162.00,162.00 0 0 1 344.76,221.59L346.17,228.95A154.50,154.50 0 0 0 337.92,230.77Z" fill="#2a78b6"/>
<path d="M339.83,184.26A199.60,199.60 0 0 1 351.08,182.56L351.98,190.01A192.10,192.10 0 0 0 341.16,191.64Z" fill="#e2878b"/>
<path d="M341.54,193.50A190.20,190.20 0 0 1 352.17,191.90L353.07,199.34A182.70,182.70 0 0 0 342.87,200.88Z" fill="#ecbfbd"/>
<path d="M343.25,202.75A180.80,180.80 0 0 1 353.26,201.24L354.17,208.68A173.30,173.30 0 0 0 344.58,210.13Z" fill="#dddde0"/>
<path d="M344.96,211.99A171.40,171.40 0 0 1 354.35,210.57L355.26,218.02A163.90,163.90 0 0 0 346.28,219.37Z" fill="#5f93c6"/>
<path d="M346.67,221.23A162.00,162.00 0 0 1 355.43,219.91L356.35,227.35A154.50,154.50 0 0 0 347.99,228.61Z" fill="#5f93c6"/>
<path d="M353.00,182.34A199.60,199.60 0 0 1 364.34,181.40L364.74,188.88A192.10,192.10 0 0 0 353.83,189.79Z" fill="#d9535f"/>
<path d="M354.09,191.68A190.20,190.20 0 0 1 364.80,190.78L365.21,198.27A182.70,182.70 0 0 0 354.92,199.13Z" fill="#e2878b"/>
<path d="M355.18,201.01A180.80,180.80 0 0 1 365.27,200.17L365.68,207.66A173.30,173.30 0 0 0 356.01,208.47Z" fill="#dddde0"/>
<path d="M356.27,210.35A171.40,171.40 0 0 1 365.73,209.56L366.15,217.05A163.90,163.90 0 0 0 357.10,217.80Z" fill="#5f93c6"/>
<path d="M357.37,219.68A162.00,162.00 0 0 1 366.20,218.95L366.61,226.44A154.50,154.50 0 0 0 358.19,227.14Z" fill="#2a78b6"/>
<path d="M366.27,181.30A199.60,199.60 0 0 1 377.65,181.11L377.55,188.61A192.10,192.10 0 0 0 366.61,188.79Z" fill="#ecbfbd"/>
<path d="M366.74,190.69A190.20,190.20 0 0 1 377.48,190.51L377.39,198.01A182.70,182.70 0 0 0 367.07,198.18Z" fill="#e2878b"/>
<path d="M367.20,200.08A180.80,180.80 0 0 1 377.32,199.91L377.23,207.41A173.30,173.30 0 0 0 367.54,207.57Z" fill="#e2878b"/>
<path d="M367.67,209.47A171.40,171.40 0 0 1 377.16,209.31L377.07,216.81A163.90,163.90 0 0 0 368.00,216.96Z" fill="#5f93c6"/>
<path d="M368.14,218.85A162.00,162.00 0 0 1 377.00,218.71L376.92,226.21A154.50,154.50 0 0 0 368.47,226.35Z" fill="#2a78b6"/>
<text x="392.92" y="174.46" font-size="15.7" font-style="italic" text-anchor="start" dominant-baseline="central" transform="rotate(-85.09 392.92 174.46)" fill="#111" stroke="#111" stroke-width="0.3">SSI2</text>
<text x="406.63" y="176.10" font-size="15.7" font-style="italic" text-anchor="start" dominant-baseline="central" transform="rotate(-81.27 406.63 176.10)" fill="#111" stroke="#111" stroke-width="0.3">AAD5</text>
<text x="420.20" y="178.65" font-size="15.7" font-style="italic" text-anchor="start" dominant-baseline="central" transform="rotate(-77.44 420.20 178.65)" fill="#111" stroke="#111" stroke-width="0.3">ACP1</text>
<text x="433.56" y="182.10" font-size="15.7" font-style="italic" text-anchor="start" dominant-baseline="central" transform="rotate(-73.62 433.56 182.10)" fill="#111" stroke="#111" stroke-width="0.3">ACP5</text>
<text x="446.67" y="186.43" font-size="15.7" font-style="italic" text-anchor="start" dominant-baseline="central" transform="rotate(-69.80 446.67 186.43)" fill="#111" stroke="#111" stroke-width="0.3">BCCP2</text>
<text x="459.46" y="191.63" font-size="15.7" font-style="italic" text-anchor="start" dominant-baseline="central" transform="rotate(-65.98 459.46 191.63)" fill="#111" stroke="#111" stroke-width="0.3">FAD2</text>
<text x="471.88" y="197.66" font-size="15.7" font-style="italic" text-anchor="start" dominant-baseline="central" transform="rotate(-62.16 471.88 197.66)" fill="#111" stroke="#111" stroke-width="0.3">CAC2</text>
<text x="483.87" y="204.52" font-size="15.7" font-style="italic" text-anchor="start" dominant-baseline="central" transform="rotate(-58.34 483.87 204.52)" fill="#111" stroke="#111" stroke-width="0.3">PDH−E1β</text>
<text x="495.37" y="212.15" font-size="15.7" font-style="italic" text-anchor="start" dominant-baseline="central" transform="rotate(-54.51 495.37 212.15)" fill="#111" stroke="#111" stroke-width="0.3">AT5G10160</text>
<text x="506.34" y="220.54" font-size="15.7" font-style="italic" text-anchor="start" dominant-baseline="central" transform="rotate(-50.69 506.34 220.54)" fill="#111" stroke="#111" stroke-width="0.3">FAB1</text>
<text x="516.72" y="229.63" font-size="15.7" font-style="italic" text-anchor="start" dominant-baseline="central" transform="rotate(-46.87 516.72 229.63)" fill="#111" stroke="#111" stroke-width="0.3">PKP−β1</text>
<text x="526.47" y="239.40" font-size="15.7" font-style="italic" text-anchor="start" dominant-baseline="central" transform="rotate(-43.05 526.47 239.40)" fill="#111" stroke="#111" stroke-width="0.3">VTE1</text>
<text x="535.56" y="249.80" font-size="15.7" font-style="italic" text-anchor="start" dominant-baseline="central" transform="rotate(-39.23 535.56 249.80)" fill="#111" stroke="#111" stroke-width="0.3">AT4G12700</text>
<text x="543.93" y="260.78" font-size="15.7" font-style="italic" text-anchor="start" dominant-baseline="central" transform="rotate(-35.40 543.93 260.78)" fill="#111" stroke="#111" stroke-width="0.3">KCS18</text>
<text x="551.54" y="272.29" font-size="15.7" font-style="italic" text-anchor="start" dominant-baseline="central" transform="rotate(-31.58 551.54 272.29)" fill="#111" stroke="#111" stroke-width="0.3">AAD3</text>
<text x="558.38" y="284.29" font-size="15.7" font-style="italic" text-anchor="start" dominant-baseline="central" transform="rotate(-27.76 558.38 284.29)" fill="#111" stroke="#111" stroke-width="0.3">ADS1</text>
<text x="564.40" y="296.71" font-size="15.7" font-style="italic" text-anchor="start" dominant-baseline="central" transform="rotate(-23.94 564.40 296.71)" fill="#111" stroke="#111" stroke-width="0.3">ACP2</text>
<text x="569.57" y="309.51" font-size="15.7" font-style="italic" text-anchor="start" dominant-baseline="central" transform="rotate(-20.11 569.57 309.51)" fill="#111" stroke="#111" stroke-width="0.3">LACS2</text>
<text x="573.89" y="322.63" font-size="15.7" font-style="italic" text-anchor="start" dominant-baseline="central" transform="rotate(-16.29 573.89 322.63)" fill="#111" stroke="#111" stroke-width="0.3">CYP86A2</text>
<text x="577.32" y="336.00" font-size="15.7" font-style="italic" text-anchor="start" dominant-baseline="central" transform="rotate(-12.47 577.32 336.00)" fill="#111" stroke="#111" stroke-width="0.3">RALFL34</text>
<text x="579.85" y="349.57" font-size="15.7" font-style="italic" text-anchor="start" dominant-baseline="central" transform="rotate(-8.65 579.85 349.57)" fill="#111" stroke="#111" stroke-width="0.3">HCD1</text>
<text x="581.47" y="363.28" font-size="15.7" font-style="italic" text-anchor="start" dominant-baseline="central" transform="rotate(-4.83 581.47 363.28)" fill="#111" stroke="#111" stroke-width="0.3">SCP2</text>
<text x="582.17" y="377.07" font-size="15.7" font-style="italic" text-anchor="start" dominant-baseline="central" transform="rotate(-1.00 582.17 377.07)" fill="#111" stroke="#111" stroke-width="0.3">ADS4.2</text>
<text x="581.95" y="390.87" font-size="15.7" font-style="italic" text-anchor="start" dominant-baseline="central" transform="rotate(2.82 581.95 390.87)" fill="#111" stroke="#111" stroke-width="0.3">MFP2</text>
<text x="580.81" y="404.63" font-size="15.7" font-style="italic" text-anchor="start" dominant-baseline="central" transform="rotate(6.64 580.81 404.63)" fill="#111" stroke="#111" stroke-width="0.3">GGL22</text>
<text x="578.76" y="418.28" font-size="15.7" font-style="italic" text-anchor="start" dominant-baseline="central" transform="rotate(10.46 578.76 418.28)" fill="#111" stroke="#111" stroke-width="0.3">KCS8</text>
<text x="575.80" y="431.77" font-size="15.7" font-style="italic" text-anchor="start" dominant-baseline="central" transform="rotate(14.28 575.80 431.77)" fill="#111" stroke="#111" stroke-width="0.3">HTH</text>
<text x="571.95" y="445.03" font-size="15.7" font-style="italic" text-anchor="start" dominant-baseline="central" transform="rotate(18.11 571.95 445.03)" fill="#111" stroke="#111" stroke-width="0.3">ATS3A</text>
<text x="567.23" y="458.00" font-size="15.7" font-style="italic" text-anchor="start" dominant-baseline="central" transform="rotate(21.93 567.23 458.00)" fill="#111" stroke="#111" stroke-width="0.3">AOS</text>
<text x="561.65" y="470.63" font-size="15.7" font-style="italic" text-anchor="start" dominant-baseline="central" transform="rotate(25.75 561.65 470.63)" fill="#111" stroke="#111" stroke-width="0.3">PKT3</text>
<text x="555.24" y="482.85" font-size="15.7" font-style="italic" text-anchor="start" dominant-baseline="central" transform="rotate(29.57 555.24 482.85)" fill="#111" stroke="#111" stroke-width="0.3">SEAR4</text>
<text x="542.89" y="502.06" font-size="15.7" font-style="italic" text-anchor="start" dominant-baseline="central" transform="rotate(35.89 542.89 502.06)" fill="#111" stroke="#111" stroke-width="0.3">RPP1A</text>
<text x="534.43" y="512.97" font-size="15.7" font-style="italic" text-anchor="start" dominant-baseline="central" transform="rotate(39.72 534.43 512.97)" fill="#111" stroke="#111" stroke-width="0.3">RPP1C</text>
<text x="525.26" y="523.29" font-size="15.7" font-style="italic" text-anchor="start" dominant-baseline="central" transform="rotate(43.54 525.26 523.29)" fill="#111" stroke="#111" stroke-width="0.3">RPL36A</text>
<text x="515.42" y="532.97" font-size="15.7" font-style="italic" text-anchor="start" dominant-baseline="central" transform="rotate(47.36 515.42 532.97)" fill="#111" stroke="#111" stroke-width="0.3">EIF3A</text>
<text x="504.96" y="541.98" font-size="15.7" font-style="italic" text-anchor="start" dominant-baseline="central" transform="rotate(51.18 504.96 541.98)" fill="#111" stroke="#111" stroke-width="0.3">NUC−L1</text>
<text x="493.92" y="550.27" font-size="15.7" font-style="italic" text-anchor="start" dominant-baseline="central" transform="rotate(55.00 493.92 550.27)" fill="#111" stroke="#111" stroke-width="0.3">EMB2296</text>
<text x="482.35" y="557.81" font-size="15.7" font-style="italic" text-anchor="start" dominant-baseline="central" transform="rotate(58.82 482.35 557.81)" fill="#111" stroke="#111" stroke-width="0.3">P40</text>
<text x="470.31" y="564.56" font-size="15.7" font-style="italic" text-anchor="start" dominant-baseline="central" transform="rotate(62.65 470.31 564.56)" fill="#111" stroke="#111" stroke-width="0.3">RPL36AA</text>
<text x="452.85" y="572.59" font-size="15.7" font-style="italic" text-anchor="start" dominant-baseline="central" transform="rotate(67.97 452.85 572.59)" fill="#111" stroke="#111" stroke-width="0.3">FVE</text>
<text x="439.88" y="577.33" font-size="15.7" font-style="italic" text-anchor="start" dominant-baseline="central" transform="rotate(71.79 439.88 577.33)" fill="#111" stroke="#111" stroke-width="0.3">FKBP53</text>
<text x="426.63" y="581.21" font-size="15.7" font-style="italic" text-anchor="start" dominant-baseline="central" transform="rotate(75.61 426.63 581.21)" fill="#111" stroke="#111" stroke-width="0.3">NAP1;1</text>
<text x="413.15" y="584.19" font-size="15.7" font-style="italic" text-anchor="start" dominant-baseline="central" transform="rotate(79.44 413.15 584.19)" fill="#111" stroke="#111" stroke-width="0.3">HOG1</text>
<text x="399.51" y="586.27" font-size="15.7" font-style="italic" text-anchor="start" dominant-baseline="central" transform="rotate(83.26 399.51 586.27)" fill="#111" stroke="#111" stroke-width="0.3">HTB2</text>
<text x="385.75" y="587.43" font-size="15.7" font-style="italic" text-anchor="start" dominant-baseline="central" transform="rotate(87.08 385.75 587.43)" fill="#111" stroke="#111" stroke-width="0.3">HTB4</text>
<text x="371.94" y="587.67" font-size="15.7" font-style="italic" text-anchor="start" dominant-baseline="central" transform="rotate(90.90 371.94 587.67)" fill="#111" stroke="#111" stroke-width="0.3">AGO4</text>
<text x="350.97" y="586.28" font-size="15.7" font-style="italic" text-anchor="end" dominant-baseline="central" transform="rotate(-83.28 350.97 586.28)" fill="#111" stroke="#111" stroke-width="0.3">LEC1</text>
<text x="337.32" y="584.20" font-size="15.7" font-style="italic" text-anchor="end" dominant-baseline="central" transform="rotate(-79.46 337.32 584.20)" fill="#111" stroke="#111" stroke-width="0.3">BBM</text>
<text x="323.84" y="581.23" font-size="15.7" font-style="italic" text-anchor="end" dominant-baseline="central" transform="rotate(-75.63 323.84 581.23)" fill="#111" stroke="#111" stroke-width="0.3">SERK1</text>
<text x="310.58" y="577.36" font-size="15.7" font-style="italic" text-anchor="end" dominant-baseline="central" transform="rotate(-71.81 310.58 577.36)" fill="#111" stroke="#111" stroke-width="0.3">ABI3</text>
<text x="290.97" y="569.79" font-size="15.7" font-style="italic" text-anchor="end" dominant-baseline="central" transform="rotate(-65.99 290.97 569.79)" fill="#111" stroke="#111" stroke-width="0.3">ATL23</text>
<text x="278.55" y="563.75" font-size="15.7" font-style="italic" text-anchor="end" dominant-baseline="central" transform="rotate(-62.17 278.55 563.75)" fill="#111" stroke="#111" stroke-width="0.3">HUP54</text>
<text x="266.57" y="556.90" font-size="15.7" font-style="italic" text-anchor="end" dominant-baseline="central" transform="rotate(-58.34 266.57 556.90)" fill="#111" stroke="#111" stroke-width="0.3">MES10</text>
<text x="255.06" y="549.27" font-size="15.7" font-style="italic" text-anchor="end" dominant-baseline="central" transform="rotate(-54.52 255.06 549.27)" fill="#111" stroke="#111" stroke-width="0.3">EXL2</text>
<text x="244.09" y="540.89" font-size="15.7" font-style="italic" text-anchor="end" dominant-baseline="central" transform="rotate(-50.70 244.09 540.89)" fill="#111" stroke="#111" stroke-width="0.3">NUDT7</text>
<text x="233.71" y="531.79" font-size="15.7" font-style="italic" text-anchor="end" dominant-baseline="central" transform="rotate(-46.88 233.71 531.79)" fill="#111" stroke="#111" stroke-width="0.3">PCO2</text>
<text x="223.95" y="522.02" font-size="15.7" font-style="italic" text-anchor="end" dominant-baseline="central" transform="rotate(-43.06 223.95 522.02)" fill="#111" stroke="#111" stroke-width="0.3">CMI1</text>
<text x="214.87" y="511.63" font-size="15.7" font-style="italic" text-anchor="end" dominant-baseline="central" transform="rotate(-39.24 214.87 511.63)" fill="#111" stroke="#111" stroke-width="0.3">PHI−1</text>
<text x="206.50" y="500.65" font-size="15.7" font-style="italic" text-anchor="end" dominant-baseline="central" transform="rotate(-35.41 206.50 500.65)" fill="#111" stroke="#111" stroke-width="0.3">LDAP1</text>
<text x="198.88" y="489.14" font-size="15.7" font-style="italic" text-anchor="end" dominant-baseline="central" transform="rotate(-31.59 198.88 489.14)" fill="#111" stroke="#111" stroke-width="0.3">IQM4</text>
<text x="192.04" y="477.14" font-size="15.7" font-style="italic" text-anchor="end" dominant-baseline="central" transform="rotate(-27.77 192.04 477.14)" fill="#111" stroke="#111" stroke-width="0.3">HIRD11</text>
<text x="186.02" y="464.72" font-size="15.7" font-style="italic" text-anchor="end" dominant-baseline="central" transform="rotate(-23.95 186.02 464.72)" fill="#111" stroke="#111" stroke-width="0.3">SAP2</text>
<text x="180.84" y="451.92" font-size="15.7" font-style="italic" text-anchor="end" dominant-baseline="central" transform="rotate(-20.12 180.84 451.92)" fill="#111" stroke="#111" stroke-width="0.3">CASPL1D1</text>
<text x="176.52" y="438.81" font-size="15.7" font-style="italic" text-anchor="end" dominant-baseline="central" transform="rotate(-16.30 176.52 438.81)" fill="#111" stroke="#111" stroke-width="0.3">GASA14</text>
<text x="173.09" y="425.44" font-size="15.7" font-style="italic" text-anchor="end" dominant-baseline="central" transform="rotate(-12.48 173.09 425.44)" fill="#111" stroke="#111" stroke-width="0.3">OPR1</text>
<text x="170.56" y="411.86" font-size="15.7" font-style="italic" text-anchor="end" dominant-baseline="central" transform="rotate(-8.66 170.56 411.86)" fill="#111" stroke="#111" stroke-width="0.3">ERD15</text>
<text x="168.94" y="398.15" font-size="15.7" font-style="italic" text-anchor="end" dominant-baseline="central" transform="rotate(-4.84 168.94 398.15)" fill="#111" stroke="#111" stroke-width="0.3">EIF4A−III</text>
<text x="168.23" y="384.37" font-size="15.7" font-style="italic" text-anchor="end" dominant-baseline="central" transform="rotate(-1.01 168.23 384.37)" fill="#111" stroke="#111" stroke-width="0.3">HSP17.6II</text>
<text x="168.93" y="363.35" font-size="15.7" font-style="italic" text-anchor="end" dominant-baseline="central" transform="rotate(4.81 168.93 363.35)" fill="#111" stroke="#111" stroke-width="0.3">YUC4</text>
<text x="170.54" y="349.64" font-size="15.7" font-style="italic" text-anchor="end" dominant-baseline="central" transform="rotate(8.63 170.54 349.64)" fill="#111" stroke="#111" stroke-width="0.3">ARF6</text>
<text x="173.07" y="336.07" font-size="15.7" font-style="italic" text-anchor="end" dominant-baseline="central" transform="rotate(12.45 173.07 336.07)" fill="#111" stroke="#111" stroke-width="0.3">PIN1</text>
<text x="176.49" y="322.70" font-size="15.7" font-style="italic" text-anchor="end" dominant-baseline="central" transform="rotate(16.27 176.49 322.70)" fill="#111" stroke="#111" stroke-width="0.3">AUX1</text>
<text x="180.80" y="309.58" font-size="15.7" font-style="italic" text-anchor="end" dominant-baseline="central" transform="rotate(20.10 180.80 309.58)" fill="#111" stroke="#111" stroke-width="0.3">ARF8</text>
<text x="185.97" y="296.78" font-size="15.7" font-style="italic" text-anchor="end" dominant-baseline="central" transform="rotate(23.92 185.97 296.78)" fill="#111" stroke="#111" stroke-width="0.3">YUC10</text>
<text x="195.46" y="278.02" font-size="15.7" font-style="italic" text-anchor="end" dominant-baseline="central" transform="rotate(29.74 195.46 278.02)" fill="#111" stroke="#111" stroke-width="0.3">CYCB2;3</text>
<text x="202.71" y="266.27" font-size="15.7" font-style="italic" text-anchor="end" dominant-baseline="central" transform="rotate(33.56 202.71 266.27)" fill="#111" stroke="#111" stroke-width="0.3">CYCB3;1</text>
<text x="210.72" y="255.02" font-size="15.7" font-style="italic" text-anchor="end" dominant-baseline="central" transform="rotate(37.38 210.72 255.02)" fill="#111" stroke="#111" stroke-width="0.3">CYCB1;3</text>
<text x="219.46" y="244.34" font-size="15.7" font-style="italic" text-anchor="end" dominant-baseline="central" transform="rotate(41.21 219.46 244.34)" fill="#111" stroke="#111" stroke-width="0.3">ER</text>
<text x="228.90" y="234.26" font-size="15.7" font-style="italic" text-anchor="end" dominant-baseline="central" transform="rotate(45.03 228.90 234.26)" fill="#111" stroke="#111" stroke-width="0.3">CYCA1;1</text>
<text x="238.98" y="224.83" font-size="15.7" font-style="italic" text-anchor="end" dominant-baseline="central" transform="rotate(48.85 238.98 224.83)" fill="#111" stroke="#111" stroke-width="0.3">CYCB1;4</text>
<text x="249.68" y="216.10" font-size="15.7" font-style="italic" text-anchor="end" dominant-baseline="central" transform="rotate(52.67 249.68 216.10)" fill="#111" stroke="#111" stroke-width="0.3">CYCB2;4</text>
<text x="260.93" y="208.10" font-size="15.7" font-style="italic" text-anchor="end" dominant-baseline="central" transform="rotate(56.49 260.93 208.10)" fill="#111" stroke="#111" stroke-width="0.3">CYCB1;1</text>
<text x="272.69" y="200.87" font-size="15.7" font-style="italic" text-anchor="end" dominant-baseline="central" transform="rotate(60.32 272.69 200.87)" fill="#111" stroke="#111" stroke-width="0.3">AN3</text>
<text x="284.90" y="194.43" font-size="15.7" font-style="italic" text-anchor="end" dominant-baseline="central" transform="rotate(64.14 284.90 194.43)" fill="#111" stroke="#111" stroke-width="0.3">CDKB2;2</text>
<text x="297.52" y="188.83" font-size="15.7" font-style="italic" text-anchor="end" dominant-baseline="central" transform="rotate(67.96 297.52 188.83)" fill="#111" stroke="#111" stroke-width="0.3">POLAR</text>
<text x="310.48" y="184.08" font-size="15.7" font-style="italic" text-anchor="end" dominant-baseline="central" transform="rotate(71.78 310.48 184.08)" fill="#111" stroke="#111" stroke-width="0.3">ABI2</text>
<text x="330.76" y="178.53" font-size="15.7" font-style="italic" text-anchor="end" dominant-baseline="central" transform="rotate(77.60 330.76 178.53)" fill="#111" stroke="#111" stroke-width="0.3">WRI1</text>
<text x="344.34" y="176.01" font-size="15.7" font-style="italic" text-anchor="end" dominant-baseline="central" transform="rotate(81.43 344.34 176.01)" fill="#111" stroke="#111" stroke-width="0.3">OLEO1</text>
<text x="358.05" y="174.41" font-size="15.7" font-style="italic" text-anchor="end" dominant-baseline="central" transform="rotate(85.25 358.05 174.41)" fill="#111" stroke="#111" stroke-width="0.3">OLEO4</text>
<text x="371.84" y="173.73" font-size="15.7" font-style="italic" text-anchor="end" dominant-baseline="central" transform="rotate(89.07 371.84 173.73)" fill="#111" stroke="#111" stroke-width="0.3">OLEO3</text>
<circle cx="375" cy="301" r="22.2" fill="#a6d8cf" opacity="0.92"/>
<circle cx="312.5" cy="329" r="22.2" fill="#a6d8cf" opacity="0.92"/>
<circle cx="437.2" cy="329.4" r="22.2" fill="#a6d8cf" opacity="0.92"/>
<circle cx="375" cy="354.3" r="22.2" fill="#a6d8cf" opacity="0.92"/>
<circle cx="293" cy="382" r="22.2" fill="#a6d8cf" opacity="0.92"/>
<circle cx="458" cy="378.7" r="22.2" fill="#a6d8cf" opacity="0.92"/>
<circle cx="352.5" cy="394.5" r="22.2" fill="#a6d8cf" opacity="0.92"/>
<circle cx="400.2" cy="394.5" r="22.2" fill="#a6d8cf" opacity="0.92"/>
<circle cx="317" cy="438.5" r="22.2" fill="#a6d8cf" opacity="0.92"/>
<circle cx="435.6" cy="437.2" r="22.2" fill="#a6d8cf" opacity="0.92"/>
<circle cx="377.8" cy="462.2" r="22.2" fill="#a6d8cf" opacity="0.92"/>
<text x="375" y="301" font-size="19" text-anchor="middle" dominant-baseline="central" fill="#111">AGL15</text>
<text x="312.5" y="329" font-size="19" text-anchor="middle" dominant-baseline="central" fill="#111">FUS3</text>
<text x="437.2" y="329.4" font-size="19" text-anchor="middle" dominant-baseline="central" fill="#111">MYB118</text>
<text x="375" y="354.3" font-size="19" text-anchor="middle" dominant-baseline="central" fill="#111">SPCH</text>
<text x="293" y="382" font-size="19" text-anchor="middle" dominant-baseline="central" fill="#111">BPC1</text>
<text x="458" y="378.7" font-size="19" text-anchor="middle" dominant-baseline="central" fill="#111">LBD16</text>
<text x="352.5" y="394.5" font-size="19" text-anchor="middle" dominant-baseline="central" fill="#111">MP</text>
<text x="400.2" y="394.5" font-size="19" text-anchor="middle" dominant-baseline="central" fill="#111">LEC2</text>
<text x="317" y="438.5" font-size="19" text-anchor="middle" dominant-baseline="central" fill="#111">GBF6</text>
<text x="435.6" y="437.2" font-size="19" text-anchor="middle" dominant-baseline="central" fill="#111">PDF2</text>
<text x="377.8" y="462.2" font-size="19" text-anchor="middle" dominant-baseline="central" fill="#111">HB5</text>
<polyline points="640,438.7 508.7,464.3 505.5,470.4" fill="none" stroke="#3a3a3a" stroke-width="1.45"/>
<text x="642" y="438.7" font-size="16" dominant-baseline="central" fill="#111">60h</text>
<polyline points="638.3,459.1 517.7,468.6 513.7,476.3" fill="none" stroke="#3a3a3a" stroke-width="1.45"/>
<text x="642.6999999999999" y="459.1" font-size="16" dominant-baseline="central" fill="#111">72h</text>
<polyline points="632,484.8 525.2,476.3 521.3,481.9" fill="none" stroke="#3a3a3a" stroke-width="1.45"/>
<text x="636.0" y="484.8" font-size="16" dominant-baseline="central" fill="#111">84h</text>
<polyline points="622,516 532.7,481.6 529.3,486.9" fill="none" stroke="#3a3a3a" stroke-width="1.45"/>
<text x="625.6" y="516" font-size="16" dominant-baseline="central" fill="#111">96h</text>
<polyline points="614.3,537.1 540.1,486.9 536.9,492.3" fill="none" stroke="#3a3a3a" stroke-width="1.45"/>
<text x="616.3" y="537.1" font-size="16" dominant-baseline="central" fill="#111">108h</text>
<defs><linearGradient id="lg" x1="0" x2="1" y1="0" y2="0"><stop offset="0" stop-color="#2878b5"/><stop offset="0.2" stop-color="#2878b5"/><stop offset="0.38" stop-color="#7aa6cf"/><stop offset="0.5" stop-color="#e2dfdf"/><stop offset="0.62" stop-color="#e6a6a8"/><stop offset="0.84" stop-color="#d9535f"/><stop offset="1" stop-color="#d9535f"/></linearGradient></defs>
<rect x="591" y="728.8" width="90.4" height="13.2" fill="url(#lg)"/>
<text x="590.5" y="722.7" font-size="16" fill="#111">Low</text>
<text x="681.6" y="722.7" font-size="16" text-anchor="end" fill="#111">High</text>
<text x="636.5" y="756.3" font-size="16" text-anchor="middle" fill="#111">Expression</text>
</svg>
</body></html>
